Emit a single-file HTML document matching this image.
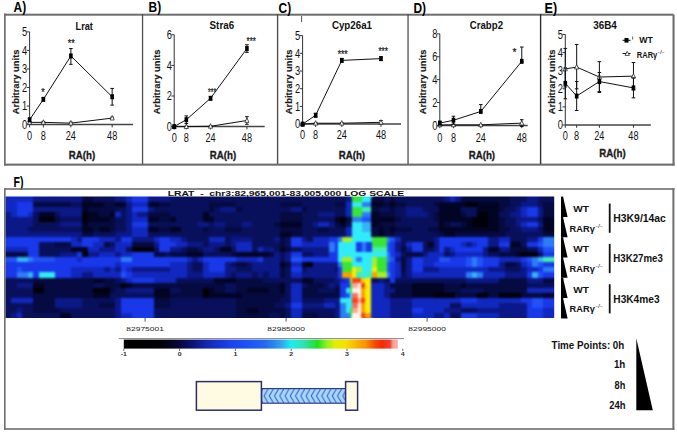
<!DOCTYPE html>
<html><head><meta charset="utf-8"><style>
html,body{margin:0;padding:0;background:#fff;}
svg{display:block;font-family:"Liberation Sans", sans-serif;}
</style></head><body>
<svg width="677" height="434" viewBox="0 0 677 434">
<rect width="677" height="434" fill="#fff"/>
<rect x="4" y="13.7" width="669.5" height="2" fill="#6e6e6e"/>
<rect x="4" y="163.6" width="670.5" height="2.1" fill="#6e6e6e"/>
<rect x="4" y="13.5" width="1.7" height="152" fill="#6e6e6e"/>
<rect x="672.5" y="14.5" width="2.1" height="151" fill="#6e6e6e"/>
<rect x="141.9" y="14" width="1.3" height="150" fill="#505050"/>
<rect x="276.9" y="14" width="1.4" height="150" fill="#505050"/>
<rect x="407.4" y="14" width="1.3" height="150" fill="#505050"/>
<rect x="539.9" y="14" width="1.4" height="150" fill="#303030"/>
<text x="13.6" y="12.2" font-size="14.6" font-weight="bold" text-anchor="start" textLength="12.6" lengthAdjust="spacingAndGlyphs" fill="#000" >A)</text>
<text x="148.6" y="12.3" font-size="14.6" font-weight="bold" text-anchor="start" textLength="12.6" lengthAdjust="spacingAndGlyphs" fill="#000" >B)</text>
<text x="278.6" y="12.7" font-size="14.6" font-weight="bold" text-anchor="start" textLength="12.6" lengthAdjust="spacingAndGlyphs" fill="#000" >C)</text>
<text x="413.4" y="12.6" font-size="14.6" font-weight="bold" text-anchor="start" textLength="12.6" lengthAdjust="spacingAndGlyphs" fill="#000" >D)</text>
<text x="544.5" y="12.6" font-size="14.6" font-weight="bold" text-anchor="start" textLength="12.6" lengthAdjust="spacingAndGlyphs" fill="#000" >E)</text>
<line x1="29.6" y1="31.849999999999994" x2="29.6" y2="124.6" stroke="#333" stroke-width="1"/>
<line x1="26.8" y1="124.6" x2="29.6" y2="124.6" stroke="#333" stroke-width="1"/>
<text x="27.3" y="128.9" font-size="12" text-anchor="end" textLength="5.2" lengthAdjust="spacingAndGlyphs" fill="#111" >0</text>
<line x1="26.8" y1="106.05" x2="29.6" y2="106.05" stroke="#333" stroke-width="1"/>
<text x="27.3" y="110.35" font-size="12" text-anchor="end" textLength="5.2" lengthAdjust="spacingAndGlyphs" fill="#111" >1</text>
<line x1="26.8" y1="87.5" x2="29.6" y2="87.5" stroke="#333" stroke-width="1"/>
<text x="27.3" y="91.8" font-size="12" text-anchor="end" textLength="5.2" lengthAdjust="spacingAndGlyphs" fill="#111" >2</text>
<line x1="26.8" y1="68.94999999999999" x2="29.6" y2="68.94999999999999" stroke="#333" stroke-width="1"/>
<text x="27.3" y="73.24999999999999" font-size="12" text-anchor="end" textLength="5.2" lengthAdjust="spacingAndGlyphs" fill="#111" >3</text>
<line x1="26.8" y1="50.39999999999999" x2="29.6" y2="50.39999999999999" stroke="#333" stroke-width="1"/>
<text x="27.3" y="54.69999999999999" font-size="12" text-anchor="end" textLength="5.2" lengthAdjust="spacingAndGlyphs" fill="#111" >4</text>
<line x1="26.8" y1="31.849999999999994" x2="29.6" y2="31.849999999999994" stroke="#333" stroke-width="1"/>
<text x="27.3" y="36.14999999999999" font-size="12" text-anchor="end" textLength="5.2" lengthAdjust="spacingAndGlyphs" fill="#111" >5</text>
<line x1="29.6" y1="124.6" x2="133" y2="124.6" stroke="#444" stroke-width="1.5"/>
<line x1="29.6" y1="124.6" x2="29.6" y2="127.39999999999999" stroke="#333" stroke-width="1"/>
<text x="29.6" y="139.5" font-size="12" text-anchor="middle" textLength="5.1" lengthAdjust="spacingAndGlyphs" fill="#111" >0</text>
<line x1="43.36" y1="124.6" x2="43.36" y2="127.39999999999999" stroke="#333" stroke-width="1"/>
<text x="43.36" y="139.5" font-size="12" text-anchor="middle" textLength="5.1" lengthAdjust="spacingAndGlyphs" fill="#111" >8</text>
<line x1="70.88" y1="124.6" x2="70.88" y2="127.39999999999999" stroke="#333" stroke-width="1"/>
<text x="70.88" y="139.5" font-size="12" text-anchor="middle" textLength="10.2" lengthAdjust="spacingAndGlyphs" fill="#111" >24</text>
<line x1="112.16" y1="124.6" x2="112.16" y2="127.39999999999999" stroke="#333" stroke-width="1"/>
<text x="112.16" y="139.5" font-size="12" text-anchor="middle" textLength="10.2" lengthAdjust="spacingAndGlyphs" fill="#111" >48</text>
<text transform="translate(19.3,81.9) rotate(-90)" x="0" y="0" font-size="9.8" font-weight="bold" text-anchor="middle" textLength="64.8" lengthAdjust="spacingAndGlyphs" fill="#1a1a1a" stroke="#1a1a1a" stroke-width="0.15">Arbitrary units</text>
<text x="82" y="158.6" font-size="10.2" font-weight="bold" text-anchor="middle" textLength="26.4" lengthAdjust="spacingAndGlyphs" fill="#1a1a1a" stroke="#1a1a1a" stroke-width="0.3">RA(h)</text>
<text x="75.6" y="29.8" font-size="10.7" font-weight="bold" text-anchor="start" textLength="17.3" lengthAdjust="spacingAndGlyphs" fill="#111" >Lrat</text>
<polyline points="29.60,122.37 43.36,122.37 70.88,123.12 112.16,118.11" fill="none" stroke="#111" stroke-width="1"/>
<line x1="29.6" y1="121.4465" x2="29.6" y2="123.30149999999999" stroke="#111" stroke-width="1"/>
<line x1="27.8" y1="121.4465" x2="31.400000000000002" y2="121.4465" stroke="#111" stroke-width="1"/>
<line x1="27.8" y1="123.30149999999999" x2="31.400000000000002" y2="123.30149999999999" stroke="#111" stroke-width="1"/>
<polygon points="29.60,119.77 31.70,124.27 27.50,124.27" fill="#fff" stroke="#222" stroke-width="0.75"/>
<line x1="43.36" y1="121.4465" x2="43.36" y2="123.30149999999999" stroke="#111" stroke-width="1"/>
<line x1="41.56" y1="121.4465" x2="45.16" y2="121.4465" stroke="#111" stroke-width="1"/>
<line x1="41.56" y1="123.30149999999999" x2="45.16" y2="123.30149999999999" stroke="#111" stroke-width="1"/>
<polygon points="43.36,119.77 45.46,124.27 41.26,124.27" fill="#fff" stroke="#222" stroke-width="0.75"/>
<line x1="70.88" y1="122.18849999999999" x2="70.88" y2="124.0435" stroke="#111" stroke-width="1"/>
<line x1="69.08" y1="122.18849999999999" x2="72.67999999999999" y2="122.18849999999999" stroke="#111" stroke-width="1"/>
<line x1="69.08" y1="124.0435" x2="72.67999999999999" y2="124.0435" stroke="#111" stroke-width="1"/>
<polygon points="70.88,120.52 72.98,125.02 68.78,125.02" fill="#fff" stroke="#222" stroke-width="0.75"/>
<line x1="112.16" y1="117.17999999999999" x2="112.16" y2="119.035" stroke="#111" stroke-width="1"/>
<line x1="110.36" y1="117.17999999999999" x2="113.96" y2="117.17999999999999" stroke="#111" stroke-width="1"/>
<line x1="110.36" y1="119.035" x2="113.96" y2="119.035" stroke="#111" stroke-width="1"/>
<polygon points="112.16,115.51 114.26,120.01 110.06,120.01" fill="#fff" stroke="#222" stroke-width="0.75"/>
<polyline points="29.60,119.78 43.36,99.37 70.88,55.96 112.16,96.77" fill="none" stroke="#111" stroke-width="1"/>
<line x1="29.6" y1="118.29299999999999" x2="29.6" y2="121.261" stroke="#111" stroke-width="1"/>
<line x1="27.8" y1="118.29299999999999" x2="31.400000000000002" y2="118.29299999999999" stroke="#111" stroke-width="1"/>
<line x1="27.8" y1="121.261" x2="31.400000000000002" y2="121.261" stroke="#111" stroke-width="1"/>
<rect x="27.8" y="117.28" width="3.6" height="5.0" fill="#000"/>
<line x1="43.36" y1="97.88799999999999" x2="43.36" y2="100.856" stroke="#111" stroke-width="1"/>
<line x1="41.56" y1="97.88799999999999" x2="45.16" y2="97.88799999999999" stroke="#111" stroke-width="1"/>
<line x1="41.56" y1="100.856" x2="45.16" y2="100.856" stroke="#111" stroke-width="1"/>
<rect x="41.56" y="96.87" width="3.6" height="5.0" fill="#000"/>
<line x1="70.88" y1="48.54499999999999" x2="70.88" y2="64.3125" stroke="#111" stroke-width="1"/>
<line x1="69.08" y1="48.54499999999999" x2="72.67999999999999" y2="48.54499999999999" stroke="#111" stroke-width="1"/>
<line x1="69.08" y1="64.3125" x2="72.67999999999999" y2="64.3125" stroke="#111" stroke-width="1"/>
<rect x="69.08" y="53.46" width="3.6" height="5.0" fill="#000"/>
<line x1="112.16" y1="88.4275" x2="112.16" y2="105.12249999999999" stroke="#111" stroke-width="1"/>
<line x1="110.36" y1="88.4275" x2="113.96" y2="88.4275" stroke="#111" stroke-width="1"/>
<line x1="110.36" y1="105.12249999999999" x2="113.96" y2="105.12249999999999" stroke="#111" stroke-width="1"/>
<rect x="110.36" y="94.27" width="3.6" height="5.0" fill="#000"/>
<text x="41.3" y="95.5" font-size="11" text-anchor="start" textLength="3.5" lengthAdjust="spacingAndGlyphs" fill="#222" stroke="#222" stroke-width="0.25">*</text>
<text x="67.8" y="47.2" font-size="11" text-anchor="start" textLength="7" lengthAdjust="spacingAndGlyphs" fill="#222" stroke="#222" stroke-width="0.25">**</text>
<line x1="174.2" y1="34.79999999999998" x2="174.2" y2="126.6" stroke="#333" stroke-width="1"/>
<line x1="171.39999999999998" y1="126.6" x2="174.2" y2="126.6" stroke="#333" stroke-width="1"/>
<text x="171.89999999999998" y="130.9" font-size="12" text-anchor="end" textLength="5.2" lengthAdjust="spacingAndGlyphs" fill="#111" >0</text>
<line x1="171.39999999999998" y1="96.0" x2="174.2" y2="96.0" stroke="#333" stroke-width="1"/>
<text x="171.89999999999998" y="100.3" font-size="12" text-anchor="end" textLength="5.2" lengthAdjust="spacingAndGlyphs" fill="#111" >2</text>
<line x1="171.39999999999998" y1="65.39999999999999" x2="174.2" y2="65.39999999999999" stroke="#333" stroke-width="1"/>
<text x="171.89999999999998" y="69.69999999999999" font-size="12" text-anchor="end" textLength="5.2" lengthAdjust="spacingAndGlyphs" fill="#111" >4</text>
<line x1="171.39999999999998" y1="34.79999999999998" x2="174.2" y2="34.79999999999998" stroke="#333" stroke-width="1"/>
<text x="171.89999999999998" y="39.09999999999998" font-size="12" text-anchor="end" textLength="5.2" lengthAdjust="spacingAndGlyphs" fill="#111" >6</text>
<line x1="174.2" y1="126.6" x2="264.7" y2="126.6" stroke="#444" stroke-width="1.5"/>
<line x1="174.2" y1="126.6" x2="174.2" y2="129.4" stroke="#333" stroke-width="1"/>
<text x="174.2" y="141.9" font-size="12" text-anchor="middle" textLength="5.1" lengthAdjust="spacingAndGlyphs" fill="#111" >0</text>
<line x1="186.32" y1="126.6" x2="186.32" y2="129.4" stroke="#333" stroke-width="1"/>
<text x="186.32" y="141.9" font-size="12" text-anchor="middle" textLength="5.1" lengthAdjust="spacingAndGlyphs" fill="#111" >8</text>
<line x1="210.56" y1="126.6" x2="210.56" y2="129.4" stroke="#333" stroke-width="1"/>
<text x="210.56" y="141.9" font-size="12" text-anchor="middle" textLength="10.2" lengthAdjust="spacingAndGlyphs" fill="#111" >24</text>
<line x1="246.92" y1="126.6" x2="246.92" y2="129.4" stroke="#333" stroke-width="1"/>
<text x="246.92" y="141.9" font-size="12" text-anchor="middle" textLength="10.2" lengthAdjust="spacingAndGlyphs" fill="#111" >48</text>
<text transform="translate(160.0,81.9) rotate(-90)" x="0" y="0" font-size="9.8" font-weight="bold" text-anchor="middle" textLength="64.8" lengthAdjust="spacingAndGlyphs" fill="#1a1a1a" stroke="#1a1a1a" stroke-width="0.15">Arbitrary units</text>
<text x="223" y="158.6" font-size="10.2" font-weight="bold" text-anchor="middle" textLength="26.4" lengthAdjust="spacingAndGlyphs" fill="#1a1a1a" stroke="#1a1a1a" stroke-width="0.3">RA(h)</text>
<text x="209.6" y="28.7" font-size="10.7" font-weight="bold" text-anchor="start" textLength="24.5" lengthAdjust="spacingAndGlyphs" fill="#111" >Stra6</text>
<polyline points="174.20,126.60 186.32,126.60 210.56,126.29 246.92,120.48" fill="none" stroke="#111" stroke-width="1"/>
<line x1="174.2" y1="126.14099999999999" x2="174.2" y2="127.059" stroke="#111" stroke-width="1"/>
<line x1="172.39999999999998" y1="126.14099999999999" x2="176.0" y2="126.14099999999999" stroke="#111" stroke-width="1"/>
<line x1="172.39999999999998" y1="127.059" x2="176.0" y2="127.059" stroke="#111" stroke-width="1"/>
<polygon points="174.20,124.00 176.30,128.50 172.10,128.50" fill="#fff" stroke="#222" stroke-width="0.75"/>
<line x1="186.32" y1="126.14099999999999" x2="186.32" y2="127.059" stroke="#111" stroke-width="1"/>
<line x1="184.51999999999998" y1="126.14099999999999" x2="188.12" y2="126.14099999999999" stroke="#111" stroke-width="1"/>
<line x1="184.51999999999998" y1="127.059" x2="188.12" y2="127.059" stroke="#111" stroke-width="1"/>
<polygon points="186.32,124.00 188.42,128.50 184.22,128.50" fill="#fff" stroke="#222" stroke-width="0.75"/>
<line x1="210.56" y1="125.835" x2="210.56" y2="126.753" stroke="#111" stroke-width="1"/>
<line x1="208.76" y1="125.835" x2="212.36" y2="125.835" stroke="#111" stroke-width="1"/>
<line x1="208.76" y1="126.753" x2="212.36" y2="126.753" stroke="#111" stroke-width="1"/>
<polygon points="210.56,123.69 212.66,128.19 208.46,128.19" fill="#fff" stroke="#222" stroke-width="0.75"/>
<line x1="246.92" y1="116.655" x2="246.92" y2="124.30499999999999" stroke="#111" stroke-width="1"/>
<line x1="245.11999999999998" y1="116.655" x2="248.72" y2="116.655" stroke="#111" stroke-width="1"/>
<line x1="245.11999999999998" y1="124.30499999999999" x2="248.72" y2="124.30499999999999" stroke="#111" stroke-width="1"/>
<polygon points="246.92,117.88 249.02,122.38 244.82,122.38" fill="#fff" stroke="#222" stroke-width="0.75"/>
<polyline points="174.20,126.60 186.32,119.71 210.56,98.29 246.92,48.57" fill="none" stroke="#111" stroke-width="1"/>
<line x1="174.2" y1="125.835" x2="174.2" y2="127.365" stroke="#111" stroke-width="1"/>
<line x1="172.39999999999998" y1="125.835" x2="176.0" y2="125.835" stroke="#111" stroke-width="1"/>
<line x1="172.39999999999998" y1="127.365" x2="176.0" y2="127.365" stroke="#111" stroke-width="1"/>
<rect x="172.4" y="124.1" width="3.6" height="5.0" fill="#000"/>
<line x1="186.32" y1="115.89" x2="186.32" y2="123.53999999999999" stroke="#111" stroke-width="1"/>
<line x1="184.51999999999998" y1="115.89" x2="188.12" y2="115.89" stroke="#111" stroke-width="1"/>
<line x1="184.51999999999998" y1="123.53999999999999" x2="188.12" y2="123.53999999999999" stroke="#111" stroke-width="1"/>
<rect x="184.52" y="117.21" width="3.6" height="5.0" fill="#000"/>
<line x1="210.56" y1="96.76499999999999" x2="210.56" y2="99.82499999999999" stroke="#111" stroke-width="1"/>
<line x1="208.76" y1="96.76499999999999" x2="212.36" y2="96.76499999999999" stroke="#111" stroke-width="1"/>
<line x1="208.76" y1="99.82499999999999" x2="212.36" y2="99.82499999999999" stroke="#111" stroke-width="1"/>
<rect x="208.76" y="95.79" width="3.6" height="5.0" fill="#000"/>
<line x1="246.92" y1="44.74499999999999" x2="246.92" y2="52.394999999999996" stroke="#111" stroke-width="1"/>
<line x1="245.11999999999998" y1="44.74499999999999" x2="248.72" y2="44.74499999999999" stroke="#111" stroke-width="1"/>
<line x1="245.11999999999998" y1="52.394999999999996" x2="248.72" y2="52.394999999999996" stroke="#111" stroke-width="1"/>
<rect x="245.12" y="46.07" width="3.6" height="5.0" fill="#000"/>
<text x="208" y="95.5" font-size="11" text-anchor="start" textLength="8.3" lengthAdjust="spacingAndGlyphs" fill="#222" stroke="#222" stroke-width="0.25">***</text>
<text x="246.6" y="45.3" font-size="11" text-anchor="start" textLength="9.2" lengthAdjust="spacingAndGlyphs" fill="#222" stroke="#222" stroke-width="0.25">***</text>
<line x1="302.6" y1="35.599999999999994" x2="302.6" y2="124.1" stroke="#333" stroke-width="1"/>
<line x1="299.8" y1="124.1" x2="302.6" y2="124.1" stroke="#333" stroke-width="1"/>
<text x="300.3" y="128.4" font-size="12" text-anchor="end" textLength="5.2" lengthAdjust="spacingAndGlyphs" fill="#111" >0</text>
<line x1="299.8" y1="106.39999999999999" x2="302.6" y2="106.39999999999999" stroke="#333" stroke-width="1"/>
<text x="300.3" y="110.69999999999999" font-size="12" text-anchor="end" textLength="5.2" lengthAdjust="spacingAndGlyphs" fill="#111" >1</text>
<line x1="299.8" y1="88.69999999999999" x2="302.6" y2="88.69999999999999" stroke="#333" stroke-width="1"/>
<text x="300.3" y="92.99999999999999" font-size="12" text-anchor="end" textLength="5.2" lengthAdjust="spacingAndGlyphs" fill="#111" >2</text>
<line x1="299.8" y1="71.0" x2="302.6" y2="71.0" stroke="#333" stroke-width="1"/>
<text x="300.3" y="75.3" font-size="12" text-anchor="end" textLength="5.2" lengthAdjust="spacingAndGlyphs" fill="#111" >3</text>
<line x1="299.8" y1="53.3" x2="302.6" y2="53.3" stroke="#333" stroke-width="1"/>
<text x="300.3" y="57.599999999999994" font-size="12" text-anchor="end" textLength="5.2" lengthAdjust="spacingAndGlyphs" fill="#111" >4</text>
<line x1="299.8" y1="35.599999999999994" x2="302.6" y2="35.599999999999994" stroke="#333" stroke-width="1"/>
<text x="300.3" y="39.89999999999999" font-size="12" text-anchor="end" textLength="5.2" lengthAdjust="spacingAndGlyphs" fill="#111" >5</text>
<line x1="302.6" y1="124.1" x2="401" y2="124.1" stroke="#444" stroke-width="1.5"/>
<line x1="302.6" y1="124.1" x2="302.6" y2="126.89999999999999" stroke="#333" stroke-width="1"/>
<text x="302.6" y="139" font-size="12" text-anchor="middle" textLength="5.1" lengthAdjust="spacingAndGlyphs" fill="#111" >0</text>
<line x1="315.66400000000004" y1="124.1" x2="315.66400000000004" y2="126.89999999999999" stroke="#333" stroke-width="1"/>
<text x="315.66400000000004" y="139" font-size="12" text-anchor="middle" textLength="5.1" lengthAdjust="spacingAndGlyphs" fill="#111" >8</text>
<line x1="341.79200000000003" y1="124.1" x2="341.79200000000003" y2="126.89999999999999" stroke="#333" stroke-width="1"/>
<text x="341.79200000000003" y="139" font-size="12" text-anchor="middle" textLength="10.2" lengthAdjust="spacingAndGlyphs" fill="#111" >24</text>
<line x1="380.98400000000004" y1="124.1" x2="380.98400000000004" y2="126.89999999999999" stroke="#333" stroke-width="1"/>
<text x="380.98400000000004" y="139" font-size="12" text-anchor="middle" textLength="10.2" lengthAdjust="spacingAndGlyphs" fill="#111" >48</text>
<text transform="translate(292.3,81.9) rotate(-90)" x="0" y="0" font-size="9.8" font-weight="bold" text-anchor="middle" textLength="64.8" lengthAdjust="spacingAndGlyphs" fill="#1a1a1a" stroke="#1a1a1a" stroke-width="0.15">Arbitrary units</text>
<text x="351.9" y="158.6" font-size="10.2" font-weight="bold" text-anchor="middle" textLength="26.4" lengthAdjust="spacingAndGlyphs" fill="#1a1a1a" stroke="#1a1a1a" stroke-width="0.3">RA(h)</text>
<text x="331.9" y="28.7" font-size="10.7" font-weight="bold" text-anchor="start" textLength="40.1" lengthAdjust="spacingAndGlyphs" fill="#111" >Cyp26a1</text>
<polyline points="302.60,124.10 315.66,123.21 341.79,123.21 380.98,122.33" fill="none" stroke="#111" stroke-width="1"/>
<line x1="302.6" y1="123.56899999999999" x2="302.6" y2="124.631" stroke="#111" stroke-width="1"/>
<line x1="300.8" y1="123.56899999999999" x2="304.40000000000003" y2="123.56899999999999" stroke="#111" stroke-width="1"/>
<line x1="300.8" y1="124.631" x2="304.40000000000003" y2="124.631" stroke="#111" stroke-width="1"/>
<polygon points="302.60,121.50 304.70,126.00 300.50,126.00" fill="#fff" stroke="#222" stroke-width="0.75"/>
<line x1="315.66400000000004" y1="122.684" x2="315.66400000000004" y2="123.746" stroke="#111" stroke-width="1"/>
<line x1="313.86400000000003" y1="122.684" x2="317.46400000000006" y2="122.684" stroke="#111" stroke-width="1"/>
<line x1="313.86400000000003" y1="123.746" x2="317.46400000000006" y2="123.746" stroke="#111" stroke-width="1"/>
<polygon points="315.66,120.61 317.76,125.11 313.56,125.11" fill="#fff" stroke="#222" stroke-width="0.75"/>
<line x1="341.79200000000003" y1="122.684" x2="341.79200000000003" y2="123.746" stroke="#111" stroke-width="1"/>
<line x1="339.992" y1="122.684" x2="343.59200000000004" y2="122.684" stroke="#111" stroke-width="1"/>
<line x1="339.992" y1="123.746" x2="343.59200000000004" y2="123.746" stroke="#111" stroke-width="1"/>
<polygon points="341.79,120.61 343.89,125.11 339.69,125.11" fill="#fff" stroke="#222" stroke-width="0.75"/>
<line x1="380.98400000000004" y1="120.55999999999999" x2="380.98400000000004" y2="124.1" stroke="#111" stroke-width="1"/>
<line x1="379.184" y1="120.55999999999999" x2="382.78400000000005" y2="120.55999999999999" stroke="#111" stroke-width="1"/>
<line x1="379.184" y1="124.1" x2="382.78400000000005" y2="124.1" stroke="#111" stroke-width="1"/>
<polygon points="380.98,119.73 383.08,124.23 378.88,124.23" fill="#fff" stroke="#222" stroke-width="0.75"/>
<polyline points="302.60,124.10 315.66,115.25 341.79,60.38 380.98,58.61" fill="none" stroke="#111" stroke-width="1"/>
<line x1="302.6" y1="123.21499999999999" x2="302.6" y2="124.985" stroke="#111" stroke-width="1"/>
<line x1="300.8" y1="123.21499999999999" x2="304.40000000000003" y2="123.21499999999999" stroke="#111" stroke-width="1"/>
<line x1="300.8" y1="124.985" x2="304.40000000000003" y2="124.985" stroke="#111" stroke-width="1"/>
<rect x="300.8" y="121.6" width="3.6" height="5.0" fill="#000"/>
<line x1="315.66400000000004" y1="113.47999999999999" x2="315.66400000000004" y2="117.02" stroke="#111" stroke-width="1"/>
<line x1="313.86400000000003" y1="113.47999999999999" x2="317.46400000000006" y2="113.47999999999999" stroke="#111" stroke-width="1"/>
<line x1="313.86400000000003" y1="117.02" x2="317.46400000000006" y2="117.02" stroke="#111" stroke-width="1"/>
<rect x="313.86" y="112.75" width="3.6" height="5.0" fill="#000"/>
<line x1="341.79200000000003" y1="58.61" x2="341.79200000000003" y2="62.15" stroke="#111" stroke-width="1"/>
<line x1="339.992" y1="58.61" x2="343.59200000000004" y2="58.61" stroke="#111" stroke-width="1"/>
<line x1="339.992" y1="62.15" x2="343.59200000000004" y2="62.15" stroke="#111" stroke-width="1"/>
<rect x="339.99" y="57.88" width="3.6" height="5.0" fill="#000"/>
<line x1="380.98400000000004" y1="56.83999999999999" x2="380.98400000000004" y2="60.379999999999995" stroke="#111" stroke-width="1"/>
<line x1="379.184" y1="56.83999999999999" x2="382.78400000000005" y2="56.83999999999999" stroke="#111" stroke-width="1"/>
<line x1="379.184" y1="60.379999999999995" x2="382.78400000000005" y2="60.379999999999995" stroke="#111" stroke-width="1"/>
<rect x="379.18" y="56.11" width="3.6" height="5.0" fill="#000"/>
<text x="337.7" y="58.0" font-size="11" text-anchor="start" textLength="10" lengthAdjust="spacingAndGlyphs" fill="#222" stroke="#222" stroke-width="0.25">***</text>
<text x="378.4" y="54.8" font-size="11" text-anchor="start" textLength="9.6" lengthAdjust="spacingAndGlyphs" fill="#222" stroke="#222" stroke-width="0.25">***</text>
<line x1="439.8" y1="33.88000000000001" x2="439.8" y2="125.4" stroke="#333" stroke-width="1"/>
<line x1="437.0" y1="125.4" x2="439.8" y2="125.4" stroke="#333" stroke-width="1"/>
<text x="437.5" y="129.70000000000002" font-size="12" text-anchor="end" textLength="5.2" lengthAdjust="spacingAndGlyphs" fill="#111" >0</text>
<line x1="437.0" y1="102.52000000000001" x2="439.8" y2="102.52000000000001" stroke="#333" stroke-width="1"/>
<text x="437.5" y="106.82000000000001" font-size="12" text-anchor="end" textLength="5.2" lengthAdjust="spacingAndGlyphs" fill="#111" >2</text>
<line x1="437.0" y1="79.64000000000001" x2="439.8" y2="79.64000000000001" stroke="#333" stroke-width="1"/>
<text x="437.5" y="83.94000000000001" font-size="12" text-anchor="end" textLength="5.2" lengthAdjust="spacingAndGlyphs" fill="#111" >4</text>
<line x1="437.0" y1="56.760000000000005" x2="439.8" y2="56.760000000000005" stroke="#333" stroke-width="1"/>
<text x="437.5" y="61.06" font-size="12" text-anchor="end" textLength="5.2" lengthAdjust="spacingAndGlyphs" fill="#111" >6</text>
<line x1="437.0" y1="33.88000000000001" x2="439.8" y2="33.88000000000001" stroke="#333" stroke-width="1"/>
<text x="437.5" y="38.18000000000001" font-size="12" text-anchor="end" textLength="5.2" lengthAdjust="spacingAndGlyphs" fill="#111" >8</text>
<line x1="439.8" y1="125.4" x2="527.7" y2="125.4" stroke="#444" stroke-width="1.5"/>
<line x1="439.8" y1="125.4" x2="439.8" y2="128.20000000000002" stroke="#333" stroke-width="1"/>
<text x="439.8" y="141.5" font-size="12" text-anchor="middle" textLength="5.1" lengthAdjust="spacingAndGlyphs" fill="#111" >0</text>
<line x1="453.464" y1="125.4" x2="453.464" y2="128.20000000000002" stroke="#333" stroke-width="1"/>
<text x="453.464" y="141.5" font-size="12" text-anchor="middle" textLength="5.1" lengthAdjust="spacingAndGlyphs" fill="#111" >8</text>
<line x1="480.79200000000003" y1="125.4" x2="480.79200000000003" y2="128.20000000000002" stroke="#333" stroke-width="1"/>
<text x="480.79200000000003" y="141.5" font-size="12" text-anchor="middle" textLength="10.2" lengthAdjust="spacingAndGlyphs" fill="#111" >24</text>
<line x1="521.784" y1="125.4" x2="521.784" y2="128.20000000000002" stroke="#333" stroke-width="1"/>
<text x="521.784" y="141.5" font-size="12" text-anchor="middle" textLength="10.2" lengthAdjust="spacingAndGlyphs" fill="#111" >48</text>
<text transform="translate(426.0,81.9) rotate(-90)" x="0" y="0" font-size="9.8" font-weight="bold" text-anchor="middle" textLength="64.8" lengthAdjust="spacingAndGlyphs" fill="#1a1a1a" stroke="#1a1a1a" stroke-width="0.15">Arbitrary units</text>
<text x="481.9" y="158.6" font-size="10.2" font-weight="bold" text-anchor="middle" textLength="26.4" lengthAdjust="spacingAndGlyphs" fill="#1a1a1a" stroke="#1a1a1a" stroke-width="0.3">RA(h)</text>
<text x="469.8" y="28.7" font-size="10.7" font-weight="bold" text-anchor="start" textLength="33.2" lengthAdjust="spacingAndGlyphs" fill="#111" >Crabp2</text>
<polyline points="439.80,124.83 453.46,124.83 480.79,124.83 521.78,123.11" fill="none" stroke="#111" stroke-width="1"/>
<line x1="439.8" y1="124.4848" x2="439.8" y2="125.1712" stroke="#111" stroke-width="1"/>
<line x1="438.0" y1="124.4848" x2="441.6" y2="124.4848" stroke="#111" stroke-width="1"/>
<line x1="438.0" y1="125.1712" x2="441.6" y2="125.1712" stroke="#111" stroke-width="1"/>
<polygon points="439.80,122.23 441.90,126.73 437.70,126.73" fill="#fff" stroke="#222" stroke-width="0.75"/>
<line x1="453.464" y1="124.4848" x2="453.464" y2="125.1712" stroke="#111" stroke-width="1"/>
<line x1="451.664" y1="124.4848" x2="455.264" y2="124.4848" stroke="#111" stroke-width="1"/>
<line x1="451.664" y1="125.1712" x2="455.264" y2="125.1712" stroke="#111" stroke-width="1"/>
<polygon points="453.46,122.23 455.56,126.73 451.36,126.73" fill="#fff" stroke="#222" stroke-width="0.75"/>
<line x1="480.79200000000003" y1="124.4848" x2="480.79200000000003" y2="125.1712" stroke="#111" stroke-width="1"/>
<line x1="478.992" y1="124.4848" x2="482.59200000000004" y2="124.4848" stroke="#111" stroke-width="1"/>
<line x1="478.992" y1="125.1712" x2="482.59200000000004" y2="125.1712" stroke="#111" stroke-width="1"/>
<polygon points="480.79,122.23 482.89,126.73 478.69,126.73" fill="#fff" stroke="#222" stroke-width="0.75"/>
<line x1="521.784" y1="119.68" x2="521.784" y2="126.54400000000001" stroke="#111" stroke-width="1"/>
<line x1="519.984" y1="119.68" x2="523.584" y2="119.68" stroke="#111" stroke-width="1"/>
<line x1="519.984" y1="126.54400000000001" x2="523.584" y2="126.54400000000001" stroke="#111" stroke-width="1"/>
<polygon points="521.78,120.51 523.88,125.01 519.68,125.01" fill="#fff" stroke="#222" stroke-width="0.75"/>
<polyline points="439.80,123.11 453.46,120.25 480.79,111.44 521.78,61.34" fill="none" stroke="#111" stroke-width="1"/>
<line x1="439.8" y1="121.396" x2="439.8" y2="124.828" stroke="#111" stroke-width="1"/>
<line x1="438.0" y1="121.396" x2="441.6" y2="121.396" stroke="#111" stroke-width="1"/>
<line x1="438.0" y1="124.828" x2="441.6" y2="124.828" stroke="#111" stroke-width="1"/>
<rect x="438.0" y="120.61" width="3.6" height="5.0" fill="#000"/>
<line x1="453.464" y1="116.248" x2="453.464" y2="124.256" stroke="#111" stroke-width="1"/>
<line x1="451.664" y1="116.248" x2="455.264" y2="116.248" stroke="#111" stroke-width="1"/>
<line x1="451.664" y1="124.256" x2="455.264" y2="124.256" stroke="#111" stroke-width="1"/>
<rect x="451.66" y="117.75" width="3.6" height="5.0" fill="#000"/>
<line x1="480.79200000000003" y1="104.57920000000001" x2="480.79200000000003" y2="112.01520000000001" stroke="#111" stroke-width="1"/>
<line x1="478.992" y1="104.57920000000001" x2="482.59200000000004" y2="104.57920000000001" stroke="#111" stroke-width="1"/>
<line x1="478.992" y1="112.01520000000001" x2="482.59200000000004" y2="112.01520000000001" stroke="#111" stroke-width="1"/>
<rect x="478.99" y="108.94" width="3.6" height="5.0" fill="#000"/>
<line x1="521.784" y1="47.036000000000016" x2="521.784" y2="61.90800000000001" stroke="#111" stroke-width="1"/>
<line x1="519.984" y1="47.036000000000016" x2="523.584" y2="47.036000000000016" stroke="#111" stroke-width="1"/>
<line x1="519.984" y1="61.90800000000001" x2="523.584" y2="61.90800000000001" stroke="#111" stroke-width="1"/>
<rect x="519.98" y="58.84" width="3.6" height="5.0" fill="#000"/>
<text x="512.6" y="56.0" font-size="11" text-anchor="start" textLength="4" lengthAdjust="spacingAndGlyphs" fill="#222" stroke="#222" stroke-width="0.25">*</text>
<line x1="565.3" y1="34.5" x2="565.3" y2="125.0" stroke="#333" stroke-width="1"/>
<line x1="562.5" y1="125.0" x2="565.3" y2="125.0" stroke="#333" stroke-width="1"/>
<text x="563.0" y="129.3" font-size="12" text-anchor="end" textLength="5.2" lengthAdjust="spacingAndGlyphs" fill="#111" >0</text>
<line x1="562.5" y1="106.9" x2="565.3" y2="106.9" stroke="#333" stroke-width="1"/>
<text x="563.0" y="111.2" font-size="12" text-anchor="end" textLength="5.2" lengthAdjust="spacingAndGlyphs" fill="#111" >1</text>
<line x1="562.5" y1="88.8" x2="565.3" y2="88.8" stroke="#333" stroke-width="1"/>
<text x="563.0" y="93.1" font-size="12" text-anchor="end" textLength="5.2" lengthAdjust="spacingAndGlyphs" fill="#111" >2</text>
<line x1="562.5" y1="70.69999999999999" x2="565.3" y2="70.69999999999999" stroke="#333" stroke-width="1"/>
<text x="563.0" y="74.99999999999999" font-size="12" text-anchor="end" textLength="5.2" lengthAdjust="spacingAndGlyphs" fill="#111" >3</text>
<line x1="562.5" y1="52.599999999999994" x2="565.3" y2="52.599999999999994" stroke="#333" stroke-width="1"/>
<text x="563.0" y="56.89999999999999" font-size="12" text-anchor="end" textLength="5.2" lengthAdjust="spacingAndGlyphs" fill="#111" >4</text>
<line x1="562.5" y1="34.5" x2="565.3" y2="34.5" stroke="#333" stroke-width="1"/>
<text x="563.0" y="38.8" font-size="12" text-anchor="end" textLength="5.2" lengthAdjust="spacingAndGlyphs" fill="#111" >5</text>
<line x1="565.3" y1="125.0" x2="650.8" y2="125.0" stroke="#444" stroke-width="1.5"/>
<line x1="565.3" y1="125.0" x2="565.3" y2="127.8" stroke="#333" stroke-width="1"/>
<text x="565.3" y="140.0" font-size="12" text-anchor="middle" textLength="5.1" lengthAdjust="spacingAndGlyphs" fill="#111" >0</text>
<line x1="576.66" y1="125.0" x2="576.66" y2="127.8" stroke="#333" stroke-width="1"/>
<text x="576.66" y="140.0" font-size="12" text-anchor="middle" textLength="5.1" lengthAdjust="spacingAndGlyphs" fill="#111" >8</text>
<line x1="599.38" y1="125.0" x2="599.38" y2="127.8" stroke="#333" stroke-width="1"/>
<text x="599.38" y="140.0" font-size="12" text-anchor="middle" textLength="10.2" lengthAdjust="spacingAndGlyphs" fill="#111" >24</text>
<line x1="633.4599999999999" y1="125.0" x2="633.4599999999999" y2="127.8" stroke="#333" stroke-width="1"/>
<text x="633.4599999999999" y="140.0" font-size="12" text-anchor="middle" textLength="10.2" lengthAdjust="spacingAndGlyphs" fill="#111" >48</text>
<text transform="translate(554.9,81.9) rotate(-90)" x="0" y="0" font-size="9.8" font-weight="bold" text-anchor="middle" textLength="64.8" lengthAdjust="spacingAndGlyphs" fill="#1a1a1a" stroke="#1a1a1a" stroke-width="0.15">Arbitrary units</text>
<text x="612.5" y="157.3" font-size="10.2" font-weight="bold" text-anchor="middle" textLength="26.4" lengthAdjust="spacingAndGlyphs" fill="#1a1a1a" stroke="#1a1a1a" stroke-width="0.3">RA(h)</text>
<text x="593.2" y="28.6" font-size="10.7" font-weight="bold" text-anchor="start" textLength="23.7" lengthAdjust="spacingAndGlyphs" fill="#111" >36B4</text>
<polyline points="565.30,68.89 576.66,67.08 599.38,77.03 633.46,76.13" fill="none" stroke="#111" stroke-width="1"/>
<line x1="565.3" y1="48.43699999999998" x2="565.3" y2="86.99" stroke="#111" stroke-width="1"/>
<line x1="563.5" y1="48.43699999999998" x2="567.0999999999999" y2="48.43699999999998" stroke="#111" stroke-width="1"/>
<line x1="563.5" y1="86.99" x2="567.0999999999999" y2="86.99" stroke="#111" stroke-width="1"/>
<polygon points="565.30,66.29 567.40,70.79 563.20,70.79" fill="#fff" stroke="#222" stroke-width="0.75"/>
<line x1="576.66" y1="44.454999999999984" x2="576.66" y2="88.8" stroke="#111" stroke-width="1"/>
<line x1="574.86" y1="44.454999999999984" x2="578.4599999999999" y2="44.454999999999984" stroke="#111" stroke-width="1"/>
<line x1="574.86" y1="88.8" x2="578.4599999999999" y2="88.8" stroke="#111" stroke-width="1"/>
<polygon points="576.66,64.48 578.76,68.98 574.56,68.98" fill="#fff" stroke="#222" stroke-width="0.75"/>
<line x1="599.38" y1="61.64999999999999" x2="599.38" y2="92.42" stroke="#111" stroke-width="1"/>
<line x1="597.58" y1="61.64999999999999" x2="601.18" y2="61.64999999999999" stroke="#111" stroke-width="1"/>
<line x1="597.58" y1="92.42" x2="601.18" y2="92.42" stroke="#111" stroke-width="1"/>
<polygon points="599.38,74.44 601.48,78.94 597.28,78.94" fill="#fff" stroke="#222" stroke-width="0.75"/>
<line x1="633.4599999999999" y1="62.55499999999999" x2="633.4599999999999" y2="89.70499999999998" stroke="#111" stroke-width="1"/>
<line x1="631.66" y1="62.55499999999999" x2="635.2599999999999" y2="62.55499999999999" stroke="#111" stroke-width="1"/>
<line x1="631.66" y1="89.70499999999998" x2="635.2599999999999" y2="89.70499999999998" stroke="#111" stroke-width="1"/>
<polygon points="633.46,73.53 635.56,78.03 631.36,78.03" fill="#fff" stroke="#222" stroke-width="0.75"/>
<polyline points="565.30,83.37 576.66,96.04 599.38,81.56 633.46,87.90" fill="none" stroke="#111" stroke-width="1"/>
<line x1="565.3" y1="67.985" x2="565.3" y2="98.755" stroke="#111" stroke-width="1"/>
<line x1="563.5" y1="67.985" x2="567.0999999999999" y2="67.985" stroke="#111" stroke-width="1"/>
<line x1="563.5" y1="98.755" x2="567.0999999999999" y2="98.755" stroke="#111" stroke-width="1"/>
<rect x="563.5" y="80.87" width="3.6" height="5.0" fill="#000"/>
<line x1="576.66" y1="81.55999999999999" x2="576.66" y2="110.52" stroke="#111" stroke-width="1"/>
<line x1="574.86" y1="81.55999999999999" x2="578.4599999999999" y2="81.55999999999999" stroke="#111" stroke-width="1"/>
<line x1="574.86" y1="110.52" x2="578.4599999999999" y2="110.52" stroke="#111" stroke-width="1"/>
<rect x="574.86" y="93.54" width="3.6" height="5.0" fill="#000"/>
<line x1="599.38" y1="72.50999999999999" x2="599.38" y2="91.515" stroke="#111" stroke-width="1"/>
<line x1="597.58" y1="72.50999999999999" x2="601.18" y2="72.50999999999999" stroke="#111" stroke-width="1"/>
<line x1="597.58" y1="91.515" x2="601.18" y2="91.515" stroke="#111" stroke-width="1"/>
<rect x="597.58" y="79.06" width="3.6" height="5.0" fill="#000"/>
<line x1="633.4599999999999" y1="77.94" x2="633.4599999999999" y2="97.85" stroke="#111" stroke-width="1"/>
<line x1="631.66" y1="77.94" x2="635.2599999999999" y2="77.94" stroke="#111" stroke-width="1"/>
<line x1="631.66" y1="97.85" x2="635.2599999999999" y2="97.85" stroke="#111" stroke-width="1"/>
<rect x="631.66" y="85.4" width="3.6" height="5.0" fill="#000"/>
<line x1="301.6" y1="16" x2="301.6" y2="22" stroke="#555" stroke-width="1"/>
<line x1="622.5" y1="40.3" x2="630.5" y2="40.3" stroke="#111" stroke-width="1"/>
<rect x="624.5" y="38" width="4" height="4.6" fill="#000"/>
<line x1="632.7" y1="36.5" x2="632.7" y2="39.5" stroke="#333" stroke-width="0.8"/>
<text x="639.3" y="43" font-size="9.6" font-weight="bold" text-anchor="start" textLength="13.6" lengthAdjust="spacingAndGlyphs" fill="#111" >WT</text>
<line x1="622.5" y1="53.5" x2="630.5" y2="53.5" stroke="#111" stroke-width="1"/>
<polygon points="627.2,51.3 629.4,55.4 625.0,55.4" fill="#fff" stroke="#222" stroke-width="0.75"/>
<text x="636.8" y="57.6" font-size="9.6" font-weight="bold" text-anchor="start" textLength="20.5" lengthAdjust="spacingAndGlyphs" fill="#111" >RAR&#947;</text>
<text x="657.5" y="53.5" font-size="6" text-anchor="start" textLength="7" lengthAdjust="spacingAndGlyphs" fill="#333" >-/-</text>
<text x="13.6" y="187.3" font-size="14.3" font-weight="bold" text-anchor="start" textLength="10" lengthAdjust="spacingAndGlyphs" fill="#000" >F)</text>
<rect x="4" y="188.2" width="670.5" height="1.6" fill="#6e6e6e"/>
<rect x="4" y="188.2" width="1.6" height="241.5" fill="#6e6e6e"/>
<rect x="672.4" y="188.2" width="2" height="241.5" fill="#6e6e6e"/>
<rect x="4" y="428.2" width="670.5" height="1.6" fill="#6e6e6e"/>
<text x="167.7" y="195.9" font-size="6.6" font-weight="bold" text-anchor="start" textLength="236.5" lengthAdjust="spacingAndGlyphs" fill="#111" >LRAT&#160;&#160;-&#160;&#160;chr3:82,965,001-83,005,000 LOG SCALE</text>
<defs><clipPath id="hc"><rect x="5.6" y="196.6" width="548.6" height="121.4"/></clipPath><filter id="hb" color-interpolation-filters="sRGB" x="-1%" y="-5%" width="102%" height="110%"><feGaussianBlur stdDeviation="1.0"/></filter></defs><g clip-path="url(#hc)"><g filter="url(#hb)" shape-rendering="crispEdges"><rect x="2.60" y="193.60" width="30.73" height="8.36" fill="#1128c0"/><rect x="33.03" y="193.60" width="49.67" height="8.36" fill="#0b1888"/><rect x="82.40" y="193.60" width="11.27" height="8.36" fill="#050a40"/><rect x="93.38" y="193.60" width="22.24" height="8.36" fill="#08105c"/><rect x="115.32" y="193.60" width="11.27" height="8.36" fill="#0b1888"/><rect x="126.29" y="193.60" width="5.79" height="8.36" fill="#1128c0"/><rect x="131.78" y="193.60" width="16.76" height="8.36" fill="#1838ea"/><rect x="148.24" y="193.60" width="22.24" height="8.36" fill="#0b1888"/><rect x="170.18" y="193.60" width="175.85" height="8.36" fill="#08105c"/><rect x="345.73" y="193.60" width="5.79" height="8.36" fill="#0b1888"/><rect x="351.22" y="193.60" width="11.27" height="8.36" fill="#38e438"/><rect x="362.19" y="193.60" width="11.27" height="8.36" fill="#30ecf8"/><rect x="373.16" y="193.60" width="11.27" height="8.36" fill="#050a40"/><rect x="384.13" y="193.60" width="5.79" height="8.36" fill="#08105c"/><rect x="389.62" y="193.60" width="5.79" height="8.36" fill="#050a40"/><rect x="395.11" y="193.60" width="49.67" height="8.36" fill="#08105c"/><rect x="444.48" y="193.60" width="5.79" height="8.36" fill="#0b1888"/><rect x="449.97" y="193.60" width="5.79" height="8.36" fill="#1128c0"/><rect x="455.45" y="193.60" width="5.79" height="8.36" fill="#0b1888"/><rect x="460.94" y="193.60" width="49.67" height="8.36" fill="#050a40"/><rect x="510.31" y="193.60" width="16.76" height="8.36" fill="#08105c"/><rect x="526.77" y="193.60" width="11.27" height="8.36" fill="#0b1888"/><rect x="537.74" y="193.60" width="19.76" height="8.36" fill="#08105c"/><rect x="2.60" y="201.66" width="14.27" height="5.36" fill="#1128c0"/><rect x="16.57" y="201.66" width="16.76" height="5.36" fill="#1838ea"/><rect x="33.03" y="201.66" width="38.70" height="5.36" fill="#050a40"/><rect x="71.43" y="201.66" width="11.27" height="5.36" fill="#08105c"/><rect x="82.40" y="201.66" width="22.24" height="5.36" fill="#020424"/><rect x="104.35" y="201.66" width="11.27" height="5.36" fill="#050a40"/><rect x="115.32" y="201.66" width="11.27" height="5.36" fill="#020424"/><rect x="126.29" y="201.66" width="5.79" height="5.36" fill="#0b1888"/><rect x="131.78" y="201.66" width="16.76" height="5.36" fill="#1128c0"/><rect x="148.24" y="201.66" width="11.27" height="5.36" fill="#020424"/><rect x="159.21" y="201.66" width="11.27" height="5.36" fill="#050a40"/><rect x="170.18" y="201.66" width="38.70" height="5.36" fill="#08105c"/><rect x="208.58" y="201.66" width="27.73" height="5.36" fill="#050a40"/><rect x="236.01" y="201.66" width="44.19" height="5.36" fill="#08105c"/><rect x="279.90" y="201.66" width="22.24" height="5.36" fill="#050a40"/><rect x="301.84" y="201.66" width="33.22" height="5.36" fill="#08105c"/><rect x="334.76" y="201.66" width="11.27" height="5.36" fill="#050a40"/><rect x="345.73" y="201.66" width="5.79" height="5.36" fill="#1128c0"/><rect x="351.22" y="201.66" width="11.27" height="5.36" fill="#30ecf8"/><rect x="362.19" y="201.66" width="11.27" height="5.36" fill="#2c7cf8"/><rect x="373.16" y="201.66" width="11.27" height="5.36" fill="#020424"/><rect x="384.13" y="201.66" width="5.79" height="5.36" fill="#050a40"/><rect x="389.62" y="201.66" width="5.79" height="5.36" fill="#020424"/><rect x="395.11" y="201.66" width="11.27" height="5.36" fill="#050a40"/><rect x="406.08" y="201.66" width="27.73" height="5.36" fill="#08105c"/><rect x="433.51" y="201.66" width="5.79" height="5.36" fill="#050a40"/><rect x="438.99" y="201.66" width="27.73" height="5.36" fill="#020424"/><rect x="466.42" y="201.66" width="11.27" height="5.36" fill="#000008"/><rect x="477.40" y="201.66" width="22.24" height="5.36" fill="#020424"/><rect x="499.34" y="201.66" width="11.27" height="5.36" fill="#050a40"/><rect x="510.31" y="201.66" width="11.27" height="5.36" fill="#08105c"/><rect x="521.28" y="201.66" width="16.76" height="5.36" fill="#0b1888"/><rect x="537.74" y="201.66" width="5.79" height="5.36" fill="#08105c"/><rect x="543.23" y="201.66" width="14.27" height="5.36" fill="#050a40"/><rect x="2.60" y="206.72" width="14.27" height="5.36" fill="#1128c0"/><rect x="16.57" y="206.72" width="16.76" height="5.36" fill="#1838ea"/><rect x="33.03" y="206.72" width="49.67" height="5.36" fill="#0b1888"/><rect x="82.40" y="206.72" width="5.79" height="5.36" fill="#020424"/><rect x="87.89" y="206.72" width="27.73" height="5.36" fill="#050a40"/><rect x="115.32" y="206.72" width="11.27" height="5.36" fill="#08105c"/><rect x="126.29" y="206.72" width="5.79" height="5.36" fill="#0b1888"/><rect x="131.78" y="206.72" width="16.76" height="5.36" fill="#1838ea"/><rect x="148.24" y="206.72" width="5.79" height="5.36" fill="#0b1888"/><rect x="153.72" y="206.72" width="55.16" height="5.36" fill="#08105c"/><rect x="208.58" y="206.72" width="5.79" height="5.36" fill="#050a40"/><rect x="214.07" y="206.72" width="5.79" height="5.36" fill="#08105c"/><rect x="219.55" y="206.72" width="16.76" height="5.36" fill="#0b1888"/><rect x="236.01" y="206.72" width="5.79" height="5.36" fill="#050a40"/><rect x="241.50" y="206.72" width="49.67" height="5.36" fill="#08105c"/><rect x="290.87" y="206.72" width="11.27" height="5.36" fill="#0b1888"/><rect x="301.84" y="206.72" width="5.79" height="5.36" fill="#050a40"/><rect x="307.33" y="206.72" width="38.70" height="5.36" fill="#08105c"/><rect x="345.73" y="206.72" width="5.79" height="5.36" fill="#1128c0"/><rect x="351.22" y="206.72" width="11.27" height="5.36" fill="#38e438"/><rect x="362.19" y="206.72" width="11.27" height="5.36" fill="#40f0b0"/><rect x="373.16" y="206.72" width="5.79" height="5.36" fill="#050a40"/><rect x="378.65" y="206.72" width="11.27" height="5.36" fill="#08105c"/><rect x="389.62" y="206.72" width="5.79" height="5.36" fill="#050a40"/><rect x="395.11" y="206.72" width="11.27" height="5.36" fill="#08105c"/><rect x="406.08" y="206.72" width="16.76" height="5.36" fill="#0b1888"/><rect x="422.54" y="206.72" width="16.76" height="5.36" fill="#08105c"/><rect x="438.99" y="206.72" width="22.24" height="5.36" fill="#020424"/><rect x="460.94" y="206.72" width="16.76" height="5.36" fill="#08105c"/><rect x="477.40" y="206.72" width="22.24" height="5.36" fill="#020424"/><rect x="499.34" y="206.72" width="5.79" height="5.36" fill="#050a40"/><rect x="504.83" y="206.72" width="11.27" height="5.36" fill="#08105c"/><rect x="515.80" y="206.72" width="5.79" height="5.36" fill="#0b1888"/><rect x="521.28" y="206.72" width="5.79" height="5.36" fill="#1128c0"/><rect x="526.77" y="206.72" width="11.27" height="5.36" fill="#1838ea"/><rect x="537.74" y="206.72" width="5.79" height="5.36" fill="#0b1888"/><rect x="543.23" y="206.72" width="14.27" height="5.36" fill="#050a40"/><rect x="2.60" y="211.78" width="8.79" height="5.36" fill="#0b1888"/><rect x="11.09" y="211.78" width="5.79" height="5.36" fill="#1128c0"/><rect x="16.57" y="211.78" width="11.27" height="5.36" fill="#1838ea"/><rect x="27.54" y="211.78" width="5.79" height="5.36" fill="#1128c0"/><rect x="33.03" y="211.78" width="5.79" height="5.36" fill="#08105c"/><rect x="38.52" y="211.78" width="16.76" height="5.36" fill="#020424"/><rect x="54.97" y="211.78" width="5.79" height="5.36" fill="#08105c"/><rect x="60.46" y="211.78" width="22.24" height="5.36" fill="#0b1888"/><rect x="82.40" y="211.78" width="5.79" height="5.36" fill="#000008"/><rect x="87.89" y="211.78" width="11.27" height="5.36" fill="#020424"/><rect x="98.86" y="211.78" width="11.27" height="5.36" fill="#050a40"/><rect x="109.83" y="211.78" width="5.79" height="5.36" fill="#020424"/><rect x="115.32" y="211.78" width="5.79" height="5.36" fill="#1128c0"/><rect x="120.81" y="211.78" width="5.79" height="5.36" fill="#08105c"/><rect x="126.29" y="211.78" width="5.79" height="5.36" fill="#0b1888"/><rect x="131.78" y="211.78" width="5.79" height="5.36" fill="#1128c0"/><rect x="137.26" y="211.78" width="11.27" height="5.36" fill="#0b1888"/><rect x="148.24" y="211.78" width="22.24" height="5.36" fill="#050a40"/><rect x="170.18" y="211.78" width="33.22" height="5.36" fill="#08105c"/><rect x="203.10" y="211.78" width="5.79" height="5.36" fill="#020424"/><rect x="208.58" y="211.78" width="71.62" height="5.36" fill="#08105c"/><rect x="279.90" y="211.78" width="22.24" height="5.36" fill="#050a40"/><rect x="301.84" y="211.78" width="16.76" height="5.36" fill="#08105c"/><rect x="318.30" y="211.78" width="16.76" height="5.36" fill="#0b1888"/><rect x="334.76" y="211.78" width="11.27" height="5.36" fill="#08105c"/><rect x="345.73" y="211.78" width="5.79" height="5.36" fill="#1128c0"/><rect x="351.22" y="211.78" width="11.27" height="5.36" fill="#38e438"/><rect x="362.19" y="211.78" width="11.27" height="5.36" fill="#2c7cf8"/><rect x="373.16" y="211.78" width="5.79" height="5.36" fill="#020424"/><rect x="378.65" y="211.78" width="16.76" height="5.36" fill="#050a40"/><rect x="395.11" y="211.78" width="11.27" height="5.36" fill="#08105c"/><rect x="406.08" y="211.78" width="22.24" height="5.36" fill="#0b1888"/><rect x="428.02" y="211.78" width="5.79" height="5.36" fill="#08105c"/><rect x="433.51" y="211.78" width="5.79" height="5.36" fill="#050a40"/><rect x="438.99" y="211.78" width="22.24" height="5.36" fill="#020424"/><rect x="460.94" y="211.78" width="5.79" height="5.36" fill="#050a40"/><rect x="466.42" y="211.78" width="11.27" height="5.36" fill="#08105c"/><rect x="477.40" y="211.78" width="11.27" height="5.36" fill="#000008"/><rect x="488.37" y="211.78" width="11.27" height="5.36" fill="#020424"/><rect x="499.34" y="211.78" width="11.27" height="5.36" fill="#08105c"/><rect x="510.31" y="211.78" width="11.27" height="5.36" fill="#0b1888"/><rect x="521.28" y="211.78" width="5.79" height="5.36" fill="#1128c0"/><rect x="526.77" y="211.78" width="11.27" height="5.36" fill="#1838ea"/><rect x="537.74" y="211.78" width="5.79" height="5.36" fill="#0b1888"/><rect x="543.23" y="211.78" width="14.27" height="5.36" fill="#050a40"/><rect x="2.60" y="216.83" width="30.73" height="5.36" fill="#0b1888"/><rect x="33.03" y="216.83" width="5.79" height="5.36" fill="#08105c"/><rect x="38.52" y="216.83" width="16.76" height="5.36" fill="#000008"/><rect x="54.97" y="216.83" width="5.79" height="5.36" fill="#050a40"/><rect x="60.46" y="216.83" width="22.24" height="5.36" fill="#08105c"/><rect x="82.40" y="216.83" width="5.79" height="5.36" fill="#000008"/><rect x="87.89" y="216.83" width="22.24" height="5.36" fill="#020424"/><rect x="109.83" y="216.83" width="5.79" height="5.36" fill="#050a40"/><rect x="115.32" y="216.83" width="11.27" height="5.36" fill="#08105c"/><rect x="126.29" y="216.83" width="5.79" height="5.36" fill="#0b1888"/><rect x="131.78" y="216.83" width="16.76" height="5.36" fill="#1128c0"/><rect x="148.24" y="216.83" width="11.27" height="5.36" fill="#020424"/><rect x="159.21" y="216.83" width="11.27" height="5.36" fill="#050a40"/><rect x="170.18" y="216.83" width="5.79" height="5.36" fill="#020424"/><rect x="175.67" y="216.83" width="27.73" height="5.36" fill="#08105c"/><rect x="203.10" y="216.83" width="11.27" height="5.36" fill="#020424"/><rect x="214.07" y="216.83" width="66.13" height="5.36" fill="#08105c"/><rect x="279.90" y="216.83" width="22.24" height="5.36" fill="#050a40"/><rect x="301.84" y="216.83" width="33.22" height="5.36" fill="#08105c"/><rect x="334.76" y="216.83" width="5.79" height="5.36" fill="#020424"/><rect x="340.25" y="216.83" width="5.79" height="5.36" fill="#000008"/><rect x="345.73" y="216.83" width="5.79" height="5.36" fill="#050a40"/><rect x="351.22" y="216.83" width="11.27" height="5.36" fill="#2c7cf8"/><rect x="362.19" y="216.83" width="11.27" height="5.36" fill="#2052f8"/><rect x="373.16" y="216.83" width="22.24" height="5.36" fill="#020424"/><rect x="395.11" y="216.83" width="5.79" height="5.36" fill="#050a40"/><rect x="400.59" y="216.83" width="33.22" height="5.36" fill="#08105c"/><rect x="433.51" y="216.83" width="5.79" height="5.36" fill="#050a40"/><rect x="438.99" y="216.83" width="33.22" height="5.36" fill="#020424"/><rect x="471.91" y="216.83" width="16.76" height="5.36" fill="#000008"/><rect x="488.37" y="216.83" width="11.27" height="5.36" fill="#020424"/><rect x="499.34" y="216.83" width="5.79" height="5.36" fill="#050a40"/><rect x="504.83" y="216.83" width="11.27" height="5.36" fill="#08105c"/><rect x="515.80" y="216.83" width="22.24" height="5.36" fill="#0b1888"/><rect x="537.74" y="216.83" width="5.79" height="5.36" fill="#08105c"/><rect x="543.23" y="216.83" width="14.27" height="5.36" fill="#020424"/><rect x="2.60" y="221.89" width="30.73" height="5.36" fill="#0b1888"/><rect x="33.03" y="221.89" width="27.73" height="5.36" fill="#08105c"/><rect x="60.46" y="221.89" width="22.24" height="5.36" fill="#0b1888"/><rect x="82.40" y="221.89" width="5.79" height="5.36" fill="#020424"/><rect x="87.89" y="221.89" width="27.73" height="5.36" fill="#050a40"/><rect x="115.32" y="221.89" width="11.27" height="5.36" fill="#08105c"/><rect x="126.29" y="221.89" width="5.79" height="5.36" fill="#0b1888"/><rect x="131.78" y="221.89" width="16.76" height="5.36" fill="#1838ea"/><rect x="148.24" y="221.89" width="49.67" height="5.36" fill="#08105c"/><rect x="197.61" y="221.89" width="11.27" height="5.36" fill="#0b1888"/><rect x="208.58" y="221.89" width="5.79" height="5.36" fill="#08105c"/><rect x="214.07" y="221.89" width="11.27" height="5.36" fill="#0b1888"/><rect x="225.04" y="221.89" width="16.76" height="5.36" fill="#08105c"/><rect x="241.50" y="221.89" width="11.27" height="5.36" fill="#0b1888"/><rect x="252.47" y="221.89" width="22.24" height="5.36" fill="#08105c"/><rect x="274.41" y="221.89" width="5.79" height="5.36" fill="#050a40"/><rect x="279.90" y="221.89" width="22.24" height="5.36" fill="#020424"/><rect x="301.84" y="221.89" width="11.27" height="5.36" fill="#08105c"/><rect x="312.82" y="221.89" width="5.79" height="5.36" fill="#0b1888"/><rect x="318.30" y="221.89" width="11.27" height="5.36" fill="#1128c0"/><rect x="329.27" y="221.89" width="5.79" height="5.36" fill="#0b1888"/><rect x="334.76" y="221.89" width="5.79" height="5.36" fill="#050a40"/><rect x="340.25" y="221.89" width="5.79" height="5.36" fill="#020424"/><rect x="345.73" y="221.89" width="5.79" height="5.36" fill="#08105c"/><rect x="351.22" y="221.89" width="11.27" height="5.36" fill="#30ecf8"/><rect x="362.19" y="221.89" width="11.27" height="5.36" fill="#34b4f8"/><rect x="373.16" y="221.89" width="5.79" height="5.36" fill="#020424"/><rect x="378.65" y="221.89" width="16.76" height="5.36" fill="#050a40"/><rect x="395.11" y="221.89" width="44.19" height="5.36" fill="#08105c"/><rect x="438.99" y="221.89" width="5.79" height="5.36" fill="#020424"/><rect x="444.48" y="221.89" width="5.79" height="5.36" fill="#050a40"/><rect x="449.97" y="221.89" width="11.27" height="5.36" fill="#08105c"/><rect x="460.94" y="221.89" width="5.79" height="5.36" fill="#050a40"/><rect x="466.42" y="221.89" width="5.79" height="5.36" fill="#020424"/><rect x="471.91" y="221.89" width="16.76" height="5.36" fill="#000008"/><rect x="488.37" y="221.89" width="11.27" height="5.36" fill="#020424"/><rect x="499.34" y="221.89" width="5.79" height="5.36" fill="#050a40"/><rect x="504.83" y="221.89" width="11.27" height="5.36" fill="#08105c"/><rect x="515.80" y="221.89" width="5.79" height="5.36" fill="#0b1888"/><rect x="521.28" y="221.89" width="5.79" height="5.36" fill="#1128c0"/><rect x="526.77" y="221.89" width="11.27" height="5.36" fill="#1838ea"/><rect x="537.74" y="221.89" width="5.79" height="5.36" fill="#0b1888"/><rect x="543.23" y="221.89" width="14.27" height="5.36" fill="#020424"/><rect x="2.60" y="226.95" width="25.24" height="5.36" fill="#0b1888"/><rect x="27.54" y="226.95" width="55.16" height="5.36" fill="#08105c"/><rect x="82.40" y="226.95" width="11.27" height="5.36" fill="#020424"/><rect x="93.38" y="226.95" width="5.79" height="5.36" fill="#050a40"/><rect x="98.86" y="226.95" width="11.27" height="5.36" fill="#020424"/><rect x="109.83" y="226.95" width="5.79" height="5.36" fill="#050a40"/><rect x="115.32" y="226.95" width="11.27" height="5.36" fill="#08105c"/><rect x="126.29" y="226.95" width="5.79" height="5.36" fill="#0b1888"/><rect x="131.78" y="226.95" width="16.76" height="5.36" fill="#1128c0"/><rect x="148.24" y="226.95" width="11.27" height="5.36" fill="#020424"/><rect x="159.21" y="226.95" width="11.27" height="5.36" fill="#050a40"/><rect x="170.18" y="226.95" width="11.27" height="5.36" fill="#020424"/><rect x="181.15" y="226.95" width="22.24" height="5.36" fill="#08105c"/><rect x="203.10" y="226.95" width="5.79" height="5.36" fill="#050a40"/><rect x="208.58" y="226.95" width="16.76" height="5.36" fill="#08105c"/><rect x="225.04" y="226.95" width="16.76" height="5.36" fill="#050a40"/><rect x="241.50" y="226.95" width="38.70" height="5.36" fill="#08105c"/><rect x="279.90" y="226.95" width="22.24" height="5.36" fill="#050a40"/><rect x="301.84" y="226.95" width="16.76" height="5.36" fill="#08105c"/><rect x="318.30" y="226.95" width="11.27" height="5.36" fill="#050a40"/><rect x="329.27" y="226.95" width="16.76" height="5.36" fill="#08105c"/><rect x="345.73" y="226.95" width="5.79" height="5.36" fill="#1128c0"/><rect x="351.22" y="226.95" width="11.27" height="5.36" fill="#30ecf8"/><rect x="362.19" y="226.95" width="11.27" height="5.36" fill="#34b4f8"/><rect x="373.16" y="226.95" width="11.27" height="5.36" fill="#020424"/><rect x="384.13" y="226.95" width="5.79" height="5.36" fill="#050a40"/><rect x="389.62" y="226.95" width="5.79" height="5.36" fill="#020424"/><rect x="395.11" y="226.95" width="16.76" height="5.36" fill="#050a40"/><rect x="411.56" y="226.95" width="16.76" height="5.36" fill="#08105c"/><rect x="428.02" y="226.95" width="11.27" height="5.36" fill="#050a40"/><rect x="438.99" y="226.95" width="60.65" height="5.36" fill="#020424"/><rect x="499.34" y="226.95" width="11.27" height="5.36" fill="#050a40"/><rect x="510.31" y="226.95" width="11.27" height="5.36" fill="#08105c"/><rect x="521.28" y="226.95" width="16.76" height="5.36" fill="#0b1888"/><rect x="537.74" y="226.95" width="5.79" height="5.36" fill="#08105c"/><rect x="543.23" y="226.95" width="14.27" height="5.36" fill="#020424"/><rect x="2.60" y="232.01" width="80.10" height="5.36" fill="#0b1888"/><rect x="82.40" y="232.01" width="11.27" height="5.36" fill="#050a40"/><rect x="93.38" y="232.01" width="22.24" height="5.36" fill="#08105c"/><rect x="115.32" y="232.01" width="16.76" height="5.36" fill="#0b1888"/><rect x="131.78" y="232.01" width="16.76" height="5.36" fill="#1128c0"/><rect x="148.24" y="232.01" width="131.96" height="5.36" fill="#08105c"/><rect x="279.90" y="232.01" width="11.27" height="5.36" fill="#020424"/><rect x="290.87" y="232.01" width="11.27" height="5.36" fill="#050a40"/><rect x="301.84" y="232.01" width="44.19" height="5.36" fill="#08105c"/><rect x="345.73" y="232.01" width="5.79" height="5.36" fill="#1128c0"/><rect x="351.22" y="232.01" width="22.24" height="5.36" fill="#30ecf8"/><rect x="373.16" y="232.01" width="11.27" height="5.36" fill="#020424"/><rect x="384.13" y="232.01" width="11.27" height="5.36" fill="#050a40"/><rect x="395.11" y="232.01" width="44.19" height="5.36" fill="#08105c"/><rect x="438.99" y="232.01" width="5.79" height="5.36" fill="#050a40"/><rect x="444.48" y="232.01" width="11.27" height="5.36" fill="#020424"/><rect x="455.45" y="232.01" width="49.67" height="5.36" fill="#050a40"/><rect x="504.83" y="232.01" width="38.70" height="5.36" fill="#08105c"/><rect x="543.23" y="232.01" width="14.27" height="5.36" fill="#050a40"/><rect x="2.60" y="237.07" width="69.13" height="5.36" fill="#1838ea"/><rect x="71.43" y="237.07" width="5.79" height="5.36" fill="#1128c0"/><rect x="76.92" y="237.07" width="5.79" height="5.36" fill="#0b1888"/><rect x="82.40" y="237.07" width="16.76" height="5.36" fill="#1838ea"/><rect x="98.86" y="237.07" width="16.76" height="5.36" fill="#1128c0"/><rect x="115.32" y="237.07" width="5.79" height="5.36" fill="#0b1888"/><rect x="120.81" y="237.07" width="11.27" height="5.36" fill="#1838ea"/><rect x="131.78" y="237.07" width="22.24" height="5.36" fill="#0b1888"/><rect x="153.72" y="237.07" width="5.79" height="5.36" fill="#1128c0"/><rect x="159.21" y="237.07" width="11.27" height="5.36" fill="#1838ea"/><rect x="170.18" y="237.07" width="11.27" height="5.36" fill="#1128c0"/><rect x="181.15" y="237.07" width="5.79" height="5.36" fill="#0b1888"/><rect x="186.64" y="237.07" width="22.24" height="5.36" fill="#08105c"/><rect x="208.58" y="237.07" width="16.76" height="5.36" fill="#1128c0"/><rect x="225.04" y="237.07" width="5.79" height="5.36" fill="#08105c"/><rect x="230.53" y="237.07" width="22.24" height="5.36" fill="#0b1888"/><rect x="252.47" y="237.07" width="22.24" height="5.36" fill="#08105c"/><rect x="274.41" y="237.07" width="5.79" height="5.36" fill="#0b1888"/><rect x="279.90" y="237.07" width="5.79" height="5.36" fill="#050a40"/><rect x="285.39" y="237.07" width="5.79" height="5.36" fill="#08105c"/><rect x="290.87" y="237.07" width="11.27" height="5.36" fill="#1838ea"/><rect x="301.84" y="237.07" width="5.79" height="5.36" fill="#0b1888"/><rect x="307.33" y="237.07" width="5.79" height="5.36" fill="#08105c"/><rect x="312.82" y="237.07" width="16.76" height="5.36" fill="#1128c0"/><rect x="329.27" y="237.07" width="5.79" height="5.36" fill="#1838ea"/><rect x="334.76" y="237.07" width="5.79" height="5.36" fill="#2052f8"/><rect x="340.25" y="237.07" width="11.27" height="5.36" fill="#a8ee28"/><rect x="351.22" y="237.07" width="22.24" height="5.36" fill="#30ecf8"/><rect x="373.16" y="237.07" width="11.27" height="5.36" fill="#38e438"/><rect x="384.13" y="237.07" width="5.79" height="5.36" fill="#2c7cf8"/><rect x="389.62" y="237.07" width="5.79" height="5.36" fill="#2052f8"/><rect x="395.11" y="237.07" width="5.79" height="5.36" fill="#1128c0"/><rect x="400.59" y="237.07" width="33.22" height="5.36" fill="#08105c"/><rect x="433.51" y="237.07" width="5.79" height="5.36" fill="#0b1888"/><rect x="438.99" y="237.07" width="49.67" height="5.36" fill="#1838ea"/><rect x="488.37" y="237.07" width="11.27" height="5.36" fill="#0b1888"/><rect x="499.34" y="237.07" width="11.27" height="5.36" fill="#1128c0"/><rect x="510.31" y="237.07" width="16.76" height="5.36" fill="#08105c"/><rect x="526.77" y="237.07" width="11.27" height="5.36" fill="#0b1888"/><rect x="537.74" y="237.07" width="5.79" height="5.36" fill="#1838ea"/><rect x="543.23" y="237.07" width="14.27" height="5.36" fill="#2c7cf8"/><rect x="2.60" y="242.12" width="36.22" height="5.36" fill="#1838ea"/><rect x="38.52" y="242.12" width="16.76" height="5.36" fill="#08105c"/><rect x="54.97" y="242.12" width="16.76" height="5.36" fill="#050a40"/><rect x="71.43" y="242.12" width="11.27" height="5.36" fill="#1128c0"/><rect x="82.40" y="242.12" width="11.27" height="5.36" fill="#1838ea"/><rect x="93.38" y="242.12" width="11.27" height="5.36" fill="#1128c0"/><rect x="104.35" y="242.12" width="5.79" height="5.36" fill="#050a40"/><rect x="109.83" y="242.12" width="5.79" height="5.36" fill="#08105c"/><rect x="115.32" y="242.12" width="16.76" height="5.36" fill="#1128c0"/><rect x="131.78" y="242.12" width="22.24" height="5.36" fill="#050a40"/><rect x="153.72" y="242.12" width="5.79" height="5.36" fill="#0b1888"/><rect x="159.21" y="242.12" width="16.76" height="5.36" fill="#1838ea"/><rect x="175.67" y="242.12" width="11.27" height="5.36" fill="#1128c0"/><rect x="186.64" y="242.12" width="16.76" height="5.36" fill="#0b1888"/><rect x="203.10" y="242.12" width="5.79" height="5.36" fill="#08105c"/><rect x="208.58" y="242.12" width="16.76" height="5.36" fill="#0b1888"/><rect x="225.04" y="242.12" width="5.79" height="5.36" fill="#08105c"/><rect x="230.53" y="242.12" width="5.79" height="5.36" fill="#0b1888"/><rect x="236.01" y="242.12" width="16.76" height="5.36" fill="#1128c0"/><rect x="252.47" y="242.12" width="27.73" height="5.36" fill="#08105c"/><rect x="279.90" y="242.12" width="5.79" height="5.36" fill="#050a40"/><rect x="285.39" y="242.12" width="5.79" height="5.36" fill="#08105c"/><rect x="290.87" y="242.12" width="11.27" height="5.36" fill="#1838ea"/><rect x="301.84" y="242.12" width="27.73" height="5.36" fill="#1128c0"/><rect x="329.27" y="242.12" width="11.27" height="5.36" fill="#2c7cf8"/><rect x="340.25" y="242.12" width="11.27" height="5.36" fill="#30ecf8"/><rect x="351.22" y="242.12" width="5.79" height="5.36" fill="#2052f8"/><rect x="356.70" y="242.12" width="5.79" height="5.36" fill="#1838ea"/><rect x="362.19" y="242.12" width="5.79" height="5.36" fill="#2c7cf8"/><rect x="367.68" y="242.12" width="5.79" height="5.36" fill="#1838ea"/><rect x="373.16" y="242.12" width="11.27" height="5.36" fill="#38e438"/><rect x="384.13" y="242.12" width="11.27" height="5.36" fill="#1838ea"/><rect x="395.11" y="242.12" width="5.79" height="5.36" fill="#0b1888"/><rect x="400.59" y="242.12" width="5.79" height="5.36" fill="#08105c"/><rect x="406.08" y="242.12" width="5.79" height="5.36" fill="#1128c0"/><rect x="411.56" y="242.12" width="11.27" height="5.36" fill="#1838ea"/><rect x="422.54" y="242.12" width="5.79" height="5.36" fill="#08105c"/><rect x="428.02" y="242.12" width="5.79" height="5.36" fill="#020424"/><rect x="433.51" y="242.12" width="5.79" height="5.36" fill="#0b1888"/><rect x="438.99" y="242.12" width="22.24" height="5.36" fill="#1838ea"/><rect x="460.94" y="242.12" width="5.79" height="5.36" fill="#1128c0"/><rect x="466.42" y="242.12" width="5.79" height="5.36" fill="#0b1888"/><rect x="471.91" y="242.12" width="5.79" height="5.36" fill="#1128c0"/><rect x="477.40" y="242.12" width="11.27" height="5.36" fill="#1838ea"/><rect x="488.37" y="242.12" width="11.27" height="5.36" fill="#0b1888"/><rect x="499.34" y="242.12" width="11.27" height="5.36" fill="#1838ea"/><rect x="510.31" y="242.12" width="11.27" height="5.36" fill="#020424"/><rect x="521.28" y="242.12" width="5.79" height="5.36" fill="#08105c"/><rect x="526.77" y="242.12" width="11.27" height="5.36" fill="#1838ea"/><rect x="537.74" y="242.12" width="5.79" height="5.36" fill="#2052f8"/><rect x="543.23" y="242.12" width="14.27" height="5.36" fill="#2c7cf8"/><rect x="2.60" y="247.18" width="25.24" height="5.36" fill="#1128c0"/><rect x="27.54" y="247.18" width="11.27" height="5.36" fill="#1838ea"/><rect x="38.52" y="247.18" width="33.22" height="5.36" fill="#08105c"/><rect x="71.43" y="247.18" width="16.76" height="5.36" fill="#020424"/><rect x="87.89" y="247.18" width="11.27" height="5.36" fill="#1128c0"/><rect x="98.86" y="247.18" width="16.76" height="5.36" fill="#0b1888"/><rect x="115.32" y="247.18" width="11.27" height="5.36" fill="#1128c0"/><rect x="126.29" y="247.18" width="5.79" height="5.36" fill="#08105c"/><rect x="131.78" y="247.18" width="22.24" height="5.36" fill="#000008"/><rect x="153.72" y="247.18" width="5.79" height="5.36" fill="#08105c"/><rect x="159.21" y="247.18" width="11.27" height="5.36" fill="#1838ea"/><rect x="170.18" y="247.18" width="11.27" height="5.36" fill="#0b1888"/><rect x="181.15" y="247.18" width="5.79" height="5.36" fill="#08105c"/><rect x="186.64" y="247.18" width="11.27" height="5.36" fill="#050a40"/><rect x="197.61" y="247.18" width="5.79" height="5.36" fill="#08105c"/><rect x="203.10" y="247.18" width="11.27" height="5.36" fill="#0b1888"/><rect x="214.07" y="247.18" width="5.79" height="5.36" fill="#08105c"/><rect x="219.55" y="247.18" width="11.27" height="5.36" fill="#020424"/><rect x="230.53" y="247.18" width="5.79" height="5.36" fill="#08105c"/><rect x="236.01" y="247.18" width="16.76" height="5.36" fill="#1128c0"/><rect x="252.47" y="247.18" width="5.79" height="5.36" fill="#08105c"/><rect x="257.96" y="247.18" width="5.79" height="5.36" fill="#1128c0"/><rect x="263.44" y="247.18" width="11.27" height="5.36" fill="#0b1888"/><rect x="274.41" y="247.18" width="5.79" height="5.36" fill="#08105c"/><rect x="279.90" y="247.18" width="5.79" height="5.36" fill="#020424"/><rect x="285.39" y="247.18" width="5.79" height="5.36" fill="#050a40"/><rect x="290.87" y="247.18" width="11.27" height="5.36" fill="#08105c"/><rect x="301.84" y="247.18" width="27.73" height="5.36" fill="#0b1888"/><rect x="329.27" y="247.18" width="11.27" height="5.36" fill="#2c7cf8"/><rect x="340.25" y="247.18" width="11.27" height="5.36" fill="#30ecf8"/><rect x="351.22" y="247.18" width="5.79" height="5.36" fill="#2052f8"/><rect x="356.70" y="247.18" width="5.79" height="5.36" fill="#1838ea"/><rect x="362.19" y="247.18" width="5.79" height="5.36" fill="#2c7cf8"/><rect x="367.68" y="247.18" width="5.79" height="5.36" fill="#1838ea"/><rect x="373.16" y="247.18" width="11.27" height="5.36" fill="#40f0b0"/><rect x="384.13" y="247.18" width="11.27" height="5.36" fill="#1838ea"/><rect x="395.11" y="247.18" width="5.79" height="5.36" fill="#0b1888"/><rect x="400.59" y="247.18" width="5.79" height="5.36" fill="#050a40"/><rect x="406.08" y="247.18" width="5.79" height="5.36" fill="#0b1888"/><rect x="411.56" y="247.18" width="11.27" height="5.36" fill="#1838ea"/><rect x="422.54" y="247.18" width="11.27" height="5.36" fill="#08105c"/><rect x="433.51" y="247.18" width="5.79" height="5.36" fill="#0b1888"/><rect x="438.99" y="247.18" width="5.79" height="5.36" fill="#1838ea"/><rect x="444.48" y="247.18" width="5.79" height="5.36" fill="#0b1888"/><rect x="449.97" y="247.18" width="5.79" height="5.36" fill="#1128c0"/><rect x="455.45" y="247.18" width="27.73" height="5.36" fill="#1838ea"/><rect x="482.88" y="247.18" width="5.79" height="5.36" fill="#0b1888"/><rect x="488.37" y="247.18" width="11.27" height="5.36" fill="#020424"/><rect x="499.34" y="247.18" width="11.27" height="5.36" fill="#0b1888"/><rect x="510.31" y="247.18" width="16.76" height="5.36" fill="#050a40"/><rect x="526.77" y="247.18" width="11.27" height="5.36" fill="#08105c"/><rect x="537.74" y="247.18" width="5.79" height="5.36" fill="#1128c0"/><rect x="543.23" y="247.18" width="14.27" height="5.36" fill="#2052f8"/><rect x="2.60" y="252.24" width="25.24" height="5.36" fill="#050a40"/><rect x="27.54" y="252.24" width="11.27" height="5.36" fill="#1838ea"/><rect x="38.52" y="252.24" width="22.24" height="5.36" fill="#08105c"/><rect x="60.46" y="252.24" width="16.76" height="5.36" fill="#0b1888"/><rect x="76.92" y="252.24" width="5.79" height="5.36" fill="#1838ea"/><rect x="82.40" y="252.24" width="5.79" height="5.36" fill="#000008"/><rect x="87.89" y="252.24" width="11.27" height="5.36" fill="#0b1888"/><rect x="98.86" y="252.24" width="16.76" height="5.36" fill="#1128c0"/><rect x="115.32" y="252.24" width="5.79" height="5.36" fill="#0b1888"/><rect x="120.81" y="252.24" width="11.27" height="5.36" fill="#1128c0"/><rect x="131.78" y="252.24" width="22.24" height="5.36" fill="#1838ea"/><rect x="153.72" y="252.24" width="11.27" height="5.36" fill="#050a40"/><rect x="164.69" y="252.24" width="5.79" height="5.36" fill="#08105c"/><rect x="170.18" y="252.24" width="16.76" height="5.36" fill="#050a40"/><rect x="186.64" y="252.24" width="16.76" height="5.36" fill="#020424"/><rect x="203.10" y="252.24" width="27.73" height="5.36" fill="#08105c"/><rect x="230.53" y="252.24" width="5.79" height="5.36" fill="#050a40"/><rect x="236.01" y="252.24" width="33.22" height="5.36" fill="#020424"/><rect x="268.93" y="252.24" width="5.79" height="5.36" fill="#050a40"/><rect x="274.41" y="252.24" width="5.79" height="5.36" fill="#0b1888"/><rect x="279.90" y="252.24" width="5.79" height="5.36" fill="#08105c"/><rect x="285.39" y="252.24" width="5.79" height="5.36" fill="#0b1888"/><rect x="290.87" y="252.24" width="11.27" height="5.36" fill="#1838ea"/><rect x="301.84" y="252.24" width="11.27" height="5.36" fill="#08105c"/><rect x="312.82" y="252.24" width="16.76" height="5.36" fill="#0b1888"/><rect x="329.27" y="252.24" width="5.79" height="5.36" fill="#1838ea"/><rect x="334.76" y="252.24" width="5.79" height="5.36" fill="#2c7cf8"/><rect x="340.25" y="252.24" width="44.19" height="5.36" fill="#30ecf8"/><rect x="384.13" y="252.24" width="5.79" height="5.36" fill="#2052f8"/><rect x="389.62" y="252.24" width="5.79" height="5.36" fill="#1838ea"/><rect x="395.11" y="252.24" width="5.79" height="5.36" fill="#1128c0"/><rect x="400.59" y="252.24" width="5.79" height="5.36" fill="#08105c"/><rect x="406.08" y="252.24" width="16.76" height="5.36" fill="#050a40"/><rect x="422.54" y="252.24" width="5.79" height="5.36" fill="#0b1888"/><rect x="428.02" y="252.24" width="16.76" height="5.36" fill="#1128c0"/><rect x="444.48" y="252.24" width="5.79" height="5.36" fill="#08105c"/><rect x="449.97" y="252.24" width="5.79" height="5.36" fill="#0b1888"/><rect x="455.45" y="252.24" width="27.73" height="5.36" fill="#1128c0"/><rect x="482.88" y="252.24" width="5.79" height="5.36" fill="#0b1888"/><rect x="488.37" y="252.24" width="11.27" height="5.36" fill="#08105c"/><rect x="499.34" y="252.24" width="16.76" height="5.36" fill="#050a40"/><rect x="515.80" y="252.24" width="5.79" height="5.36" fill="#020424"/><rect x="521.28" y="252.24" width="16.76" height="5.36" fill="#000008"/><rect x="537.74" y="252.24" width="5.79" height="5.36" fill="#08105c"/><rect x="543.23" y="252.24" width="14.27" height="5.36" fill="#1838ea"/><rect x="2.60" y="257.30" width="14.27" height="5.36" fill="#2052f8"/><rect x="16.57" y="257.30" width="11.27" height="5.36" fill="#34b4f8"/><rect x="27.54" y="257.30" width="5.79" height="5.36" fill="#2c7cf8"/><rect x="33.03" y="257.30" width="22.24" height="5.36" fill="#2052f8"/><rect x="54.97" y="257.30" width="22.24" height="5.36" fill="#1838ea"/><rect x="76.92" y="257.30" width="5.79" height="5.36" fill="#1128c0"/><rect x="82.40" y="257.30" width="38.70" height="5.36" fill="#1838ea"/><rect x="120.81" y="257.30" width="11.27" height="5.36" fill="#2c7cf8"/><rect x="131.78" y="257.30" width="55.16" height="5.36" fill="#1838ea"/><rect x="186.64" y="257.30" width="5.79" height="5.36" fill="#1128c0"/><rect x="192.12" y="257.30" width="5.79" height="5.36" fill="#0b1888"/><rect x="197.61" y="257.30" width="5.79" height="5.36" fill="#1128c0"/><rect x="203.10" y="257.30" width="33.22" height="5.36" fill="#1838ea"/><rect x="236.01" y="257.30" width="22.24" height="5.36" fill="#1128c0"/><rect x="257.96" y="257.30" width="5.79" height="5.36" fill="#1838ea"/><rect x="263.44" y="257.30" width="16.76" height="5.36" fill="#0b1888"/><rect x="279.90" y="257.30" width="5.79" height="5.36" fill="#08105c"/><rect x="285.39" y="257.30" width="5.79" height="5.36" fill="#0b1888"/><rect x="290.87" y="257.30" width="11.27" height="5.36" fill="#2052f8"/><rect x="301.84" y="257.30" width="33.22" height="5.36" fill="#1838ea"/><rect x="334.76" y="257.30" width="5.79" height="5.36" fill="#2c7cf8"/><rect x="340.25" y="257.30" width="11.27" height="5.36" fill="#a8ee28"/><rect x="351.22" y="257.30" width="5.79" height="5.36" fill="#30ecf8"/><rect x="356.70" y="257.30" width="5.79" height="5.36" fill="#2c7cf8"/><rect x="362.19" y="257.30" width="11.27" height="5.36" fill="#30ecf8"/><rect x="373.16" y="257.30" width="5.79" height="5.36" fill="#a8ee28"/><rect x="378.65" y="257.30" width="5.79" height="5.36" fill="#38e438"/><rect x="384.13" y="257.30" width="5.79" height="5.36" fill="#1838ea"/><rect x="389.62" y="257.30" width="5.79" height="5.36" fill="#2052f8"/><rect x="395.11" y="257.30" width="5.79" height="5.36" fill="#0b1888"/><rect x="400.59" y="257.30" width="5.79" height="5.36" fill="#050a40"/><rect x="406.08" y="257.30" width="5.79" height="5.36" fill="#0b1888"/><rect x="411.56" y="257.30" width="11.27" height="5.36" fill="#1838ea"/><rect x="422.54" y="257.30" width="16.76" height="5.36" fill="#1128c0"/><rect x="438.99" y="257.30" width="11.27" height="5.36" fill="#2052f8"/><rect x="449.97" y="257.30" width="16.76" height="5.36" fill="#1838ea"/><rect x="466.42" y="257.30" width="5.79" height="5.36" fill="#2052f8"/><rect x="471.91" y="257.30" width="5.79" height="5.36" fill="#2c7cf8"/><rect x="477.40" y="257.30" width="5.79" height="5.36" fill="#2052f8"/><rect x="482.88" y="257.30" width="16.76" height="5.36" fill="#1838ea"/><rect x="499.34" y="257.30" width="22.24" height="5.36" fill="#1128c0"/><rect x="521.28" y="257.30" width="5.79" height="5.36" fill="#1838ea"/><rect x="526.77" y="257.30" width="5.79" height="5.36" fill="#2052f8"/><rect x="532.26" y="257.30" width="5.79" height="5.36" fill="#2c7cf8"/><rect x="537.74" y="257.30" width="5.79" height="5.36" fill="#34b4f8"/><rect x="543.23" y="257.30" width="14.27" height="5.36" fill="#40f0b0"/><rect x="2.60" y="262.36" width="113.02" height="5.36" fill="#1838ea"/><rect x="115.32" y="262.36" width="5.79" height="5.36" fill="#1128c0"/><rect x="120.81" y="262.36" width="49.67" height="5.36" fill="#1838ea"/><rect x="170.18" y="262.36" width="16.76" height="5.36" fill="#1128c0"/><rect x="186.64" y="262.36" width="5.79" height="5.36" fill="#0b1888"/><rect x="192.12" y="262.36" width="11.27" height="5.36" fill="#08105c"/><rect x="203.10" y="262.36" width="5.79" height="5.36" fill="#1128c0"/><rect x="208.58" y="262.36" width="16.76" height="5.36" fill="#1838ea"/><rect x="225.04" y="262.36" width="5.79" height="5.36" fill="#0b1888"/><rect x="230.53" y="262.36" width="5.79" height="5.36" fill="#08105c"/><rect x="236.01" y="262.36" width="11.27" height="5.36" fill="#050a40"/><rect x="246.98" y="262.36" width="5.79" height="5.36" fill="#08105c"/><rect x="252.47" y="262.36" width="27.73" height="5.36" fill="#0b1888"/><rect x="279.90" y="262.36" width="5.79" height="5.36" fill="#020424"/><rect x="285.39" y="262.36" width="5.79" height="5.36" fill="#050a40"/><rect x="290.87" y="262.36" width="11.27" height="5.36" fill="#1128c0"/><rect x="301.84" y="262.36" width="5.79" height="5.36" fill="#020424"/><rect x="307.33" y="262.36" width="5.79" height="5.36" fill="#000008"/><rect x="312.82" y="262.36" width="22.24" height="5.36" fill="#0b1888"/><rect x="334.76" y="262.36" width="5.79" height="5.36" fill="#2052f8"/><rect x="340.25" y="262.36" width="11.27" height="5.36" fill="#38e438"/><rect x="351.22" y="262.36" width="22.24" height="5.36" fill="#30ecf8"/><rect x="373.16" y="262.36" width="11.27" height="5.36" fill="#38e438"/><rect x="384.13" y="262.36" width="11.27" height="5.36" fill="#1838ea"/><rect x="395.11" y="262.36" width="5.79" height="5.36" fill="#1128c0"/><rect x="400.59" y="262.36" width="5.79" height="5.36" fill="#050a40"/><rect x="406.08" y="262.36" width="5.79" height="5.36" fill="#0b1888"/><rect x="411.56" y="262.36" width="11.27" height="5.36" fill="#1838ea"/><rect x="422.54" y="262.36" width="11.27" height="5.36" fill="#1128c0"/><rect x="433.51" y="262.36" width="33.22" height="5.36" fill="#1838ea"/><rect x="466.42" y="262.36" width="5.79" height="5.36" fill="#2052f8"/><rect x="471.91" y="262.36" width="5.79" height="5.36" fill="#2c7cf8"/><rect x="477.40" y="262.36" width="5.79" height="5.36" fill="#2052f8"/><rect x="482.88" y="262.36" width="16.76" height="5.36" fill="#1838ea"/><rect x="499.34" y="262.36" width="5.79" height="5.36" fill="#0b1888"/><rect x="504.83" y="262.36" width="11.27" height="5.36" fill="#050a40"/><rect x="515.80" y="262.36" width="5.79" height="5.36" fill="#08105c"/><rect x="521.28" y="262.36" width="5.79" height="5.36" fill="#1128c0"/><rect x="526.77" y="262.36" width="5.79" height="5.36" fill="#1838ea"/><rect x="532.26" y="262.36" width="5.79" height="5.36" fill="#2c7cf8"/><rect x="537.74" y="262.36" width="5.79" height="5.36" fill="#2052f8"/><rect x="543.23" y="262.36" width="14.27" height="5.36" fill="#1838ea"/><rect x="2.60" y="267.42" width="14.27" height="5.36" fill="#1838ea"/><rect x="16.57" y="267.42" width="5.79" height="5.36" fill="#2052f8"/><rect x="22.06" y="267.42" width="49.67" height="5.36" fill="#1838ea"/><rect x="71.43" y="267.42" width="33.22" height="5.36" fill="#1128c0"/><rect x="104.35" y="267.42" width="5.79" height="5.36" fill="#0b1888"/><rect x="109.83" y="267.42" width="5.79" height="5.36" fill="#1128c0"/><rect x="115.32" y="267.42" width="5.79" height="5.36" fill="#0b1888"/><rect x="120.81" y="267.42" width="5.79" height="5.36" fill="#1838ea"/><rect x="126.29" y="267.42" width="5.79" height="5.36" fill="#1128c0"/><rect x="131.78" y="267.42" width="38.70" height="5.36" fill="#0b1888"/><rect x="170.18" y="267.42" width="16.76" height="5.36" fill="#1128c0"/><rect x="186.64" y="267.42" width="5.79" height="5.36" fill="#0b1888"/><rect x="192.12" y="267.42" width="11.27" height="5.36" fill="#08105c"/><rect x="203.10" y="267.42" width="5.79" height="5.36" fill="#1128c0"/><rect x="208.58" y="267.42" width="16.76" height="5.36" fill="#1838ea"/><rect x="225.04" y="267.42" width="11.27" height="5.36" fill="#0b1888"/><rect x="236.01" y="267.42" width="16.76" height="5.36" fill="#08105c"/><rect x="252.47" y="267.42" width="27.73" height="5.36" fill="#0b1888"/><rect x="279.90" y="267.42" width="5.79" height="5.36" fill="#050a40"/><rect x="285.39" y="267.42" width="5.79" height="5.36" fill="#08105c"/><rect x="290.87" y="267.42" width="11.27" height="5.36" fill="#1838ea"/><rect x="301.84" y="267.42" width="5.79" height="5.36" fill="#08105c"/><rect x="307.33" y="267.42" width="27.73" height="5.36" fill="#0b1888"/><rect x="334.76" y="267.42" width="5.79" height="5.36" fill="#1128c0"/><rect x="340.25" y="267.42" width="11.27" height="5.36" fill="#38e438"/><rect x="351.22" y="267.42" width="5.79" height="5.36" fill="#f8ee00"/><rect x="356.70" y="267.42" width="5.79" height="5.36" fill="#a8ee28"/><rect x="362.19" y="267.42" width="11.27" height="5.36" fill="#30ecf8"/><rect x="373.16" y="267.42" width="5.79" height="5.36" fill="#f8ee00"/><rect x="378.65" y="267.42" width="5.79" height="5.36" fill="#38e438"/><rect x="384.13" y="267.42" width="11.27" height="5.36" fill="#1838ea"/><rect x="395.11" y="267.42" width="5.79" height="5.36" fill="#1128c0"/><rect x="400.59" y="267.42" width="5.79" height="5.36" fill="#050a40"/><rect x="406.08" y="267.42" width="5.79" height="5.36" fill="#0b1888"/><rect x="411.56" y="267.42" width="11.27" height="5.36" fill="#1838ea"/><rect x="422.54" y="267.42" width="16.76" height="5.36" fill="#0b1888"/><rect x="438.99" y="267.42" width="49.67" height="5.36" fill="#1128c0"/><rect x="488.37" y="267.42" width="16.76" height="5.36" fill="#0b1888"/><rect x="504.83" y="267.42" width="16.76" height="5.36" fill="#08105c"/><rect x="521.28" y="267.42" width="5.79" height="5.36" fill="#0b1888"/><rect x="526.77" y="267.42" width="11.27" height="5.36" fill="#1128c0"/><rect x="537.74" y="267.42" width="5.79" height="5.36" fill="#1838ea"/><rect x="543.23" y="267.42" width="14.27" height="5.36" fill="#2c7cf8"/><rect x="2.60" y="272.48" width="14.27" height="5.36" fill="#1838ea"/><rect x="16.57" y="272.48" width="11.27" height="5.36" fill="#2c7cf8"/><rect x="27.54" y="272.48" width="5.79" height="5.36" fill="#34b4f8"/><rect x="33.03" y="272.48" width="5.79" height="5.36" fill="#1838ea"/><rect x="38.52" y="272.48" width="16.76" height="5.36" fill="#30ecf8"/><rect x="54.97" y="272.48" width="16.76" height="5.36" fill="#1838ea"/><rect x="71.43" y="272.48" width="11.27" height="5.36" fill="#1128c0"/><rect x="82.40" y="272.48" width="11.27" height="5.36" fill="#0b1888"/><rect x="93.38" y="272.48" width="27.73" height="5.36" fill="#1128c0"/><rect x="120.81" y="272.48" width="5.79" height="5.36" fill="#2052f8"/><rect x="126.29" y="272.48" width="5.79" height="5.36" fill="#1838ea"/><rect x="131.78" y="272.48" width="55.16" height="5.36" fill="#1128c0"/><rect x="186.64" y="272.48" width="16.76" height="5.36" fill="#0b1888"/><rect x="203.10" y="272.48" width="22.24" height="5.36" fill="#1128c0"/><rect x="225.04" y="272.48" width="5.79" height="5.36" fill="#0b1888"/><rect x="230.53" y="272.48" width="5.79" height="5.36" fill="#08105c"/><rect x="236.01" y="272.48" width="16.76" height="5.36" fill="#0b1888"/><rect x="252.47" y="272.48" width="5.79" height="5.36" fill="#08105c"/><rect x="257.96" y="272.48" width="5.79" height="5.36" fill="#0b1888"/><rect x="263.44" y="272.48" width="5.79" height="5.36" fill="#08105c"/><rect x="268.93" y="272.48" width="11.27" height="5.36" fill="#0b1888"/><rect x="279.90" y="272.48" width="5.79" height="5.36" fill="#050a40"/><rect x="285.39" y="272.48" width="5.79" height="5.36" fill="#08105c"/><rect x="290.87" y="272.48" width="11.27" height="5.36" fill="#1128c0"/><rect x="301.84" y="272.48" width="33.22" height="5.36" fill="#0b1888"/><rect x="334.76" y="272.48" width="5.79" height="5.36" fill="#1128c0"/><rect x="340.25" y="272.48" width="11.27" height="5.36" fill="#f8a000"/><rect x="351.22" y="272.48" width="5.79" height="5.36" fill="#f8ee00"/><rect x="356.70" y="272.48" width="5.79" height="5.36" fill="#40f0b0"/><rect x="362.19" y="272.48" width="5.79" height="5.36" fill="#30ecf8"/><rect x="367.68" y="272.48" width="5.79" height="5.36" fill="#40f0b0"/><rect x="373.16" y="272.48" width="5.79" height="5.36" fill="#f8a000"/><rect x="378.65" y="272.48" width="5.79" height="5.36" fill="#a8ee28"/><rect x="384.13" y="272.48" width="11.27" height="5.36" fill="#1838ea"/><rect x="395.11" y="272.48" width="5.79" height="5.36" fill="#1128c0"/><rect x="400.59" y="272.48" width="5.79" height="5.36" fill="#08105c"/><rect x="406.08" y="272.48" width="5.79" height="5.36" fill="#0b1888"/><rect x="411.56" y="272.48" width="55.16" height="5.36" fill="#1128c0"/><rect x="466.42" y="272.48" width="5.79" height="5.36" fill="#2c7cf8"/><rect x="471.91" y="272.48" width="5.79" height="5.36" fill="#34b4f8"/><rect x="477.40" y="272.48" width="5.79" height="5.36" fill="#2c7cf8"/><rect x="482.88" y="272.48" width="22.24" height="5.36" fill="#1128c0"/><rect x="504.83" y="272.48" width="22.24" height="5.36" fill="#0b1888"/><rect x="526.77" y="272.48" width="5.79" height="5.36" fill="#1838ea"/><rect x="532.26" y="272.48" width="5.79" height="5.36" fill="#34b4f8"/><rect x="537.74" y="272.48" width="5.79" height="5.36" fill="#2052f8"/><rect x="543.23" y="272.48" width="14.27" height="5.36" fill="#1838ea"/><rect x="2.60" y="277.53" width="30.73" height="5.36" fill="#08105c"/><rect x="33.03" y="277.53" width="60.65" height="5.36" fill="#050a40"/><rect x="93.38" y="277.53" width="11.27" height="5.36" fill="#020424"/><rect x="104.35" y="277.53" width="11.27" height="5.36" fill="#050a40"/><rect x="115.32" y="277.53" width="5.79" height="5.36" fill="#08105c"/><rect x="120.81" y="277.53" width="5.79" height="5.36" fill="#0b1888"/><rect x="126.29" y="277.53" width="5.79" height="5.36" fill="#1128c0"/><rect x="131.78" y="277.53" width="22.24" height="5.36" fill="#1838ea"/><rect x="153.72" y="277.53" width="22.24" height="5.36" fill="#1128c0"/><rect x="175.67" y="277.53" width="38.70" height="5.36" fill="#08105c"/><rect x="214.07" y="277.53" width="22.24" height="5.36" fill="#020424"/><rect x="236.01" y="277.53" width="27.73" height="5.36" fill="#050a40"/><rect x="263.44" y="277.53" width="38.70" height="5.36" fill="#08105c"/><rect x="301.84" y="277.53" width="11.27" height="5.36" fill="#020424"/><rect x="312.82" y="277.53" width="22.24" height="5.36" fill="#08105c"/><rect x="334.76" y="277.53" width="5.79" height="5.36" fill="#0b1888"/><rect x="340.25" y="277.53" width="5.79" height="5.36" fill="#1128c0"/><rect x="345.73" y="277.53" width="5.79" height="5.36" fill="#1838ea"/><rect x="351.22" y="277.53" width="5.79" height="5.36" fill="#f84018"/><rect x="356.70" y="277.53" width="5.79" height="5.36" fill="#f8a000"/><rect x="362.19" y="277.53" width="11.27" height="5.36" fill="#f8ee00"/><rect x="373.16" y="277.53" width="5.79" height="5.36" fill="#1128c0"/><rect x="378.65" y="277.53" width="5.79" height="5.36" fill="#0b1888"/><rect x="384.13" y="277.53" width="5.79" height="5.36" fill="#08105c"/><rect x="389.62" y="277.53" width="5.79" height="5.36" fill="#1838ea"/><rect x="395.11" y="277.53" width="71.62" height="5.36" fill="#08105c"/><rect x="466.42" y="277.53" width="33.22" height="5.36" fill="#0b1888"/><rect x="499.34" y="277.53" width="27.73" height="5.36" fill="#050a40"/><rect x="526.77" y="277.53" width="16.76" height="5.36" fill="#0b1888"/><rect x="543.23" y="277.53" width="14.27" height="5.36" fill="#050a40"/><rect x="2.60" y="282.59" width="14.27" height="5.36" fill="#08105c"/><rect x="16.57" y="282.59" width="16.76" height="5.36" fill="#0b1888"/><rect x="33.03" y="282.59" width="11.27" height="5.36" fill="#020424"/><rect x="44.00" y="282.59" width="49.67" height="5.36" fill="#050a40"/><rect x="93.38" y="282.59" width="11.27" height="5.36" fill="#08105c"/><rect x="104.35" y="282.59" width="16.76" height="5.36" fill="#050a40"/><rect x="120.81" y="282.59" width="5.79" height="5.36" fill="#000008"/><rect x="126.29" y="282.59" width="5.79" height="5.36" fill="#020424"/><rect x="131.78" y="282.59" width="93.56" height="5.36" fill="#050a40"/><rect x="225.04" y="282.59" width="11.27" height="5.36" fill="#08105c"/><rect x="236.01" y="282.59" width="44.19" height="5.36" fill="#050a40"/><rect x="279.90" y="282.59" width="5.79" height="5.36" fill="#020424"/><rect x="285.39" y="282.59" width="5.79" height="5.36" fill="#08105c"/><rect x="290.87" y="282.59" width="11.27" height="5.36" fill="#1128c0"/><rect x="301.84" y="282.59" width="5.79" height="5.36" fill="#08105c"/><rect x="307.33" y="282.59" width="16.76" height="5.36" fill="#050a40"/><rect x="323.79" y="282.59" width="5.79" height="5.36" fill="#08105c"/><rect x="329.27" y="282.59" width="5.79" height="5.36" fill="#0b1888"/><rect x="334.76" y="282.59" width="5.79" height="5.36" fill="#08105c"/><rect x="340.25" y="282.59" width="11.27" height="5.36" fill="#1838ea"/><rect x="351.22" y="282.59" width="5.79" height="5.36" fill="#f8a898"/><rect x="356.70" y="282.59" width="5.79" height="5.36" fill="#f8a000"/><rect x="362.19" y="282.59" width="5.79" height="5.36" fill="#f84018"/><rect x="367.68" y="282.59" width="5.79" height="5.36" fill="#f8ee00"/><rect x="373.16" y="282.59" width="11.27" height="5.36" fill="#1128c0"/><rect x="384.13" y="282.59" width="5.79" height="5.36" fill="#0b1888"/><rect x="389.62" y="282.59" width="22.24" height="5.36" fill="#050a40"/><rect x="411.56" y="282.59" width="33.22" height="5.36" fill="#020424"/><rect x="444.48" y="282.59" width="16.76" height="5.36" fill="#050a40"/><rect x="460.94" y="282.59" width="5.79" height="5.36" fill="#020424"/><rect x="466.42" y="282.59" width="60.65" height="5.36" fill="#050a40"/><rect x="526.77" y="282.59" width="30.73" height="5.36" fill="#08105c"/><rect x="2.60" y="287.65" width="30.73" height="5.36" fill="#08105c"/><rect x="33.03" y="287.65" width="11.27" height="5.36" fill="#000008"/><rect x="44.00" y="287.65" width="49.67" height="5.36" fill="#050a40"/><rect x="93.38" y="287.65" width="16.76" height="5.36" fill="#000008"/><rect x="109.83" y="287.65" width="5.79" height="5.36" fill="#050a40"/><rect x="115.32" y="287.65" width="11.27" height="5.36" fill="#08105c"/><rect x="126.29" y="287.65" width="27.73" height="5.36" fill="#0b1888"/><rect x="153.72" y="287.65" width="16.76" height="5.36" fill="#020424"/><rect x="170.18" y="287.65" width="11.27" height="5.36" fill="#08105c"/><rect x="181.15" y="287.65" width="22.24" height="5.36" fill="#050a40"/><rect x="203.10" y="287.65" width="5.79" height="5.36" fill="#000008"/><rect x="208.58" y="287.65" width="5.79" height="5.36" fill="#020424"/><rect x="214.07" y="287.65" width="11.27" height="5.36" fill="#050a40"/><rect x="225.04" y="287.65" width="11.27" height="5.36" fill="#08105c"/><rect x="236.01" y="287.65" width="11.27" height="5.36" fill="#050a40"/><rect x="246.98" y="287.65" width="22.24" height="5.36" fill="#020424"/><rect x="268.93" y="287.65" width="11.27" height="5.36" fill="#050a40"/><rect x="279.90" y="287.65" width="5.79" height="5.36" fill="#020424"/><rect x="285.39" y="287.65" width="5.79" height="5.36" fill="#08105c"/><rect x="290.87" y="287.65" width="11.27" height="5.36" fill="#1128c0"/><rect x="301.84" y="287.65" width="16.76" height="5.36" fill="#050a40"/><rect x="318.30" y="287.65" width="16.76" height="5.36" fill="#08105c"/><rect x="334.76" y="287.65" width="5.79" height="5.36" fill="#050a40"/><rect x="340.25" y="287.65" width="5.79" height="5.36" fill="#1838ea"/><rect x="345.73" y="287.65" width="5.79" height="5.36" fill="#30ecf8"/><rect x="351.22" y="287.65" width="11.27" height="5.36" fill="#fff6f2"/><rect x="362.19" y="287.65" width="5.79" height="5.36" fill="#f8a000"/><rect x="367.68" y="287.65" width="5.79" height="5.36" fill="#f8ee00"/><rect x="373.16" y="287.65" width="11.27" height="5.36" fill="#1128c0"/><rect x="384.13" y="287.65" width="11.27" height="5.36" fill="#0b1888"/><rect x="395.11" y="287.65" width="16.76" height="5.36" fill="#050a40"/><rect x="411.56" y="287.65" width="33.22" height="5.36" fill="#020424"/><rect x="444.48" y="287.65" width="16.76" height="5.36" fill="#050a40"/><rect x="460.94" y="287.65" width="22.24" height="5.36" fill="#08105c"/><rect x="482.88" y="287.65" width="44.19" height="5.36" fill="#050a40"/><rect x="526.77" y="287.65" width="30.73" height="5.36" fill="#1128c0"/><rect x="2.60" y="292.71" width="30.73" height="5.36" fill="#08105c"/><rect x="33.03" y="292.71" width="60.65" height="5.36" fill="#050a40"/><rect x="93.38" y="292.71" width="16.76" height="5.36" fill="#020424"/><rect x="109.83" y="292.71" width="44.19" height="5.36" fill="#08105c"/><rect x="153.72" y="292.71" width="16.76" height="5.36" fill="#020424"/><rect x="170.18" y="292.71" width="33.22" height="5.36" fill="#050a40"/><rect x="203.10" y="292.71" width="5.79" height="5.36" fill="#000008"/><rect x="208.58" y="292.71" width="33.22" height="5.36" fill="#020424"/><rect x="241.50" y="292.71" width="44.19" height="5.36" fill="#050a40"/><rect x="285.39" y="292.71" width="5.79" height="5.36" fill="#08105c"/><rect x="290.87" y="292.71" width="11.27" height="5.36" fill="#1128c0"/><rect x="301.84" y="292.71" width="38.70" height="5.36" fill="#050a40"/><rect x="340.25" y="292.71" width="5.79" height="5.36" fill="#1838ea"/><rect x="345.73" y="292.71" width="5.79" height="5.36" fill="#2052f8"/><rect x="351.22" y="292.71" width="5.79" height="5.36" fill="#f84018"/><rect x="356.70" y="292.71" width="5.79" height="5.36" fill="#f8a898"/><rect x="362.19" y="292.71" width="5.79" height="5.36" fill="#f8a000"/><rect x="367.68" y="292.71" width="5.79" height="5.36" fill="#f8ee00"/><rect x="373.16" y="292.71" width="11.27" height="5.36" fill="#1128c0"/><rect x="384.13" y="292.71" width="5.79" height="5.36" fill="#0b1888"/><rect x="389.62" y="292.71" width="22.24" height="5.36" fill="#050a40"/><rect x="411.56" y="292.71" width="22.24" height="5.36" fill="#020424"/><rect x="433.51" y="292.71" width="22.24" height="5.36" fill="#000008"/><rect x="455.45" y="292.71" width="22.24" height="5.36" fill="#050a40"/><rect x="477.40" y="292.71" width="11.27" height="5.36" fill="#000008"/><rect x="488.37" y="292.71" width="11.27" height="5.36" fill="#050a40"/><rect x="499.34" y="292.71" width="22.24" height="5.36" fill="#000008"/><rect x="521.28" y="292.71" width="22.24" height="5.36" fill="#050a40"/><rect x="543.23" y="292.71" width="14.27" height="5.36" fill="#020424"/><rect x="2.60" y="297.77" width="8.79" height="5.36" fill="#08105c"/><rect x="11.09" y="297.77" width="22.24" height="5.36" fill="#1128c0"/><rect x="33.03" y="297.77" width="22.24" height="5.36" fill="#050a40"/><rect x="54.97" y="297.77" width="27.73" height="5.36" fill="#0b1888"/><rect x="82.40" y="297.77" width="33.22" height="5.36" fill="#08105c"/><rect x="115.32" y="297.77" width="5.79" height="5.36" fill="#0b1888"/><rect x="120.81" y="297.77" width="33.22" height="5.36" fill="#1838ea"/><rect x="153.72" y="297.77" width="16.76" height="5.36" fill="#050a40"/><rect x="170.18" y="297.77" width="66.13" height="5.36" fill="#08105c"/><rect x="236.01" y="297.77" width="44.19" height="5.36" fill="#050a40"/><rect x="279.90" y="297.77" width="11.27" height="5.36" fill="#08105c"/><rect x="290.87" y="297.77" width="11.27" height="5.36" fill="#1128c0"/><rect x="301.84" y="297.77" width="22.24" height="5.36" fill="#08105c"/><rect x="323.79" y="297.77" width="16.76" height="5.36" fill="#0b1888"/><rect x="340.25" y="297.77" width="11.27" height="5.36" fill="#30ecf8"/><rect x="351.22" y="297.77" width="5.79" height="5.36" fill="#f84018"/><rect x="356.70" y="297.77" width="5.79" height="5.36" fill="#f8a898"/><rect x="362.19" y="297.77" width="5.79" height="5.36" fill="#f84018"/><rect x="367.68" y="297.77" width="5.79" height="5.36" fill="#f8ee00"/><rect x="373.16" y="297.77" width="16.76" height="5.36" fill="#1128c0"/><rect x="389.62" y="297.77" width="22.24" height="5.36" fill="#0b1888"/><rect x="411.56" y="297.77" width="49.67" height="5.36" fill="#1128c0"/><rect x="460.94" y="297.77" width="16.76" height="5.36" fill="#1838ea"/><rect x="477.40" y="297.77" width="44.19" height="5.36" fill="#1128c0"/><rect x="521.28" y="297.77" width="11.27" height="5.36" fill="#1838ea"/><rect x="532.26" y="297.77" width="11.27" height="5.36" fill="#2052f8"/><rect x="543.23" y="297.77" width="14.27" height="5.36" fill="#1838ea"/><rect x="2.60" y="302.82" width="30.73" height="5.36" fill="#08105c"/><rect x="33.03" y="302.82" width="22.24" height="5.36" fill="#050a40"/><rect x="54.97" y="302.82" width="27.73" height="5.36" fill="#0b1888"/><rect x="82.40" y="302.82" width="16.76" height="5.36" fill="#08105c"/><rect x="98.86" y="302.82" width="16.76" height="5.36" fill="#050a40"/><rect x="115.32" y="302.82" width="5.79" height="5.36" fill="#0b1888"/><rect x="120.81" y="302.82" width="33.22" height="5.36" fill="#1838ea"/><rect x="153.72" y="302.82" width="16.76" height="5.36" fill="#050a40"/><rect x="170.18" y="302.82" width="66.13" height="5.36" fill="#08105c"/><rect x="236.01" y="302.82" width="38.70" height="5.36" fill="#050a40"/><rect x="274.41" y="302.82" width="11.27" height="5.36" fill="#08105c"/><rect x="285.39" y="302.82" width="5.79" height="5.36" fill="#0b1888"/><rect x="290.87" y="302.82" width="11.27" height="5.36" fill="#1838ea"/><rect x="301.84" y="302.82" width="22.24" height="5.36" fill="#0b1888"/><rect x="323.79" y="302.82" width="11.27" height="5.36" fill="#1128c0"/><rect x="334.76" y="302.82" width="5.79" height="5.36" fill="#0b1888"/><rect x="340.25" y="302.82" width="11.27" height="5.36" fill="#2c7cf8"/><rect x="351.22" y="302.82" width="11.27" height="5.36" fill="#f8a898"/><rect x="362.19" y="302.82" width="5.79" height="5.36" fill="#f8a000"/><rect x="367.68" y="302.82" width="5.79" height="5.36" fill="#f8ee00"/><rect x="373.16" y="302.82" width="16.76" height="5.36" fill="#1128c0"/><rect x="389.62" y="302.82" width="22.24" height="5.36" fill="#0b1888"/><rect x="411.56" y="302.82" width="38.70" height="5.36" fill="#1128c0"/><rect x="449.97" y="302.82" width="11.27" height="5.36" fill="#08105c"/><rect x="460.94" y="302.82" width="38.70" height="5.36" fill="#1128c0"/><rect x="499.34" y="302.82" width="27.73" height="5.36" fill="#0b1888"/><rect x="526.77" y="302.82" width="5.79" height="5.36" fill="#1838ea"/><rect x="532.26" y="302.82" width="11.27" height="5.36" fill="#2052f8"/><rect x="543.23" y="302.82" width="14.27" height="5.36" fill="#1838ea"/><rect x="2.60" y="307.88" width="14.27" height="5.36" fill="#08105c"/><rect x="16.57" y="307.88" width="5.79" height="5.36" fill="#0b1888"/><rect x="22.06" y="307.88" width="11.27" height="5.36" fill="#08105c"/><rect x="33.03" y="307.88" width="27.73" height="5.36" fill="#050a40"/><rect x="60.46" y="307.88" width="55.16" height="5.36" fill="#08105c"/><rect x="115.32" y="307.88" width="5.79" height="5.36" fill="#0b1888"/><rect x="120.81" y="307.88" width="33.22" height="5.36" fill="#1838ea"/><rect x="153.72" y="307.88" width="82.59" height="5.36" fill="#08105c"/><rect x="236.01" y="307.88" width="11.27" height="5.36" fill="#050a40"/><rect x="246.98" y="307.88" width="11.27" height="5.36" fill="#020424"/><rect x="257.96" y="307.88" width="27.73" height="5.36" fill="#050a40"/><rect x="285.39" y="307.88" width="5.79" height="5.36" fill="#08105c"/><rect x="290.87" y="307.88" width="11.27" height="5.36" fill="#1128c0"/><rect x="301.84" y="307.88" width="33.22" height="5.36" fill="#08105c"/><rect x="334.76" y="307.88" width="5.79" height="5.36" fill="#0b1888"/><rect x="340.25" y="307.88" width="5.79" height="5.36" fill="#2c7cf8"/><rect x="345.73" y="307.88" width="5.79" height="5.36" fill="#30ecf8"/><rect x="351.22" y="307.88" width="5.79" height="5.36" fill="#f8a898"/><rect x="356.70" y="307.88" width="5.79" height="5.36" fill="#fff6f2"/><rect x="362.19" y="307.88" width="5.79" height="5.36" fill="#f8a000"/><rect x="367.68" y="307.88" width="5.79" height="5.36" fill="#f8ee00"/><rect x="373.16" y="307.88" width="16.76" height="5.36" fill="#1128c0"/><rect x="389.62" y="307.88" width="22.24" height="5.36" fill="#0b1888"/><rect x="411.56" y="307.88" width="11.27" height="5.36" fill="#1838ea"/><rect x="422.54" y="307.88" width="22.24" height="5.36" fill="#1128c0"/><rect x="444.48" y="307.88" width="16.76" height="5.36" fill="#0b1888"/><rect x="460.94" y="307.88" width="16.76" height="5.36" fill="#08105c"/><rect x="477.40" y="307.88" width="49.67" height="5.36" fill="#0b1888"/><rect x="526.77" y="307.88" width="16.76" height="5.36" fill="#1838ea"/><rect x="543.23" y="307.88" width="14.27" height="5.36" fill="#1128c0"/><rect x="2.60" y="312.94" width="8.79" height="8.36" fill="#08105c"/><rect x="11.09" y="312.94" width="5.79" height="8.36" fill="#0b1888"/><rect x="16.57" y="312.94" width="5.79" height="8.36" fill="#1128c0"/><rect x="22.06" y="312.94" width="38.70" height="8.36" fill="#08105c"/><rect x="60.46" y="312.94" width="11.27" height="8.36" fill="#020424"/><rect x="71.43" y="312.94" width="44.19" height="8.36" fill="#08105c"/><rect x="115.32" y="312.94" width="5.79" height="8.36" fill="#0b1888"/><rect x="120.81" y="312.94" width="11.27" height="8.36" fill="#1128c0"/><rect x="131.78" y="312.94" width="22.24" height="8.36" fill="#1838ea"/><rect x="153.72" y="312.94" width="82.59" height="8.36" fill="#08105c"/><rect x="236.01" y="312.94" width="33.22" height="8.36" fill="#050a40"/><rect x="268.93" y="312.94" width="11.27" height="8.36" fill="#08105c"/><rect x="279.90" y="312.94" width="5.79" height="8.36" fill="#050a40"/><rect x="285.39" y="312.94" width="5.79" height="8.36" fill="#08105c"/><rect x="290.87" y="312.94" width="11.27" height="8.36" fill="#1128c0"/><rect x="301.84" y="312.94" width="16.76" height="8.36" fill="#050a40"/><rect x="318.30" y="312.94" width="16.76" height="8.36" fill="#08105c"/><rect x="334.76" y="312.94" width="5.79" height="8.36" fill="#0b1888"/><rect x="340.25" y="312.94" width="11.27" height="8.36" fill="#2c7cf8"/><rect x="351.22" y="312.94" width="11.27" height="8.36" fill="#fff6f2"/><rect x="362.19" y="312.94" width="11.27" height="8.36" fill="#f84018"/><rect x="373.16" y="312.94" width="16.76" height="8.36" fill="#1128c0"/><rect x="389.62" y="312.94" width="22.24" height="8.36" fill="#0b1888"/><rect x="411.56" y="312.94" width="22.24" height="8.36" fill="#1128c0"/><rect x="433.51" y="312.94" width="11.27" height="8.36" fill="#0b1888"/><rect x="444.48" y="312.94" width="5.79" height="8.36" fill="#1128c0"/><rect x="449.97" y="312.94" width="11.27" height="8.36" fill="#08105c"/><rect x="460.94" y="312.94" width="16.76" height="8.36" fill="#1838ea"/><rect x="477.40" y="312.94" width="22.24" height="8.36" fill="#1128c0"/><rect x="499.34" y="312.94" width="27.73" height="8.36" fill="#0b1888"/><rect x="526.77" y="312.94" width="16.76" height="8.36" fill="#1838ea"/><rect x="543.23" y="312.94" width="14.27" height="8.36" fill="#1128c0"/><rect x="345.70" y="196.60" width="6.40" height="5.36" fill="#0b1888"/><rect x="351.80" y="196.60" width="10.20" height="5.36" fill="#38e438"/><rect x="361.70" y="196.60" width="10.00" height="5.36" fill="#30ecf8"/><rect x="371.40" y="196.60" width="7.50" height="5.36" fill="#050a40"/><rect x="345.70" y="201.66" width="6.40" height="5.36" fill="#1128c0"/><rect x="351.80" y="201.66" width="10.20" height="5.36" fill="#30ecf8"/><rect x="361.70" y="201.66" width="10.00" height="5.36" fill="#2c7cf8"/><rect x="371.40" y="201.66" width="7.50" height="5.36" fill="#020424"/><rect x="345.70" y="206.72" width="6.40" height="5.36" fill="#1128c0"/><rect x="351.80" y="206.72" width="10.20" height="5.36" fill="#38e438"/><rect x="361.70" y="206.72" width="10.00" height="5.36" fill="#40f0b0"/><rect x="371.40" y="206.72" width="7.50" height="5.36" fill="#050a40"/><rect x="345.70" y="211.78" width="6.40" height="5.36" fill="#1128c0"/><rect x="351.80" y="211.78" width="10.20" height="5.36" fill="#38e438"/><rect x="361.70" y="211.78" width="10.00" height="5.36" fill="#2c7cf8"/><rect x="371.40" y="211.78" width="7.50" height="5.36" fill="#020424"/><rect x="345.70" y="216.83" width="6.40" height="5.36" fill="#050a40"/><rect x="351.80" y="216.83" width="10.20" height="5.36" fill="#2c7cf8"/><rect x="361.70" y="216.83" width="10.00" height="5.36" fill="#2052f8"/><rect x="371.40" y="216.83" width="7.50" height="5.36" fill="#020424"/><rect x="345.70" y="221.89" width="6.40" height="5.36" fill="#08105c"/><rect x="351.80" y="221.89" width="10.20" height="5.36" fill="#30ecf8"/><rect x="361.70" y="221.89" width="10.00" height="5.36" fill="#34b4f8"/><rect x="371.40" y="221.89" width="7.50" height="5.36" fill="#020424"/><rect x="345.70" y="226.95" width="6.40" height="5.36" fill="#1128c0"/><rect x="351.80" y="226.95" width="10.20" height="5.36" fill="#30ecf8"/><rect x="361.70" y="226.95" width="10.00" height="5.36" fill="#34b4f8"/><rect x="371.40" y="226.95" width="7.50" height="5.36" fill="#050a40"/><rect x="345.70" y="232.01" width="6.40" height="5.36" fill="#1128c0"/><rect x="351.80" y="232.01" width="10.20" height="5.36" fill="#30ecf8"/><rect x="361.70" y="232.01" width="10.00" height="5.36" fill="#30ecf8"/><rect x="371.40" y="232.01" width="7.50" height="5.36" fill="#050a40"/><rect x="334.80" y="237.07" width="3.80" height="5.36" fill="#1838ea"/><rect x="338.30" y="237.07" width="4.10" height="5.36" fill="#2c7cf8"/><rect x="342.10" y="237.07" width="10.20" height="5.36" fill="#a8ee28"/><rect x="352.00" y="237.07" width="4.60" height="5.36" fill="#30ecf8"/><rect x="356.30" y="237.07" width="5.50" height="5.36" fill="#30ecf8"/><rect x="361.50" y="237.07" width="5.00" height="5.36" fill="#30ecf8"/><rect x="366.20" y="237.07" width="6.00" height="5.36" fill="#30ecf8"/><rect x="371.90" y="237.07" width="4.90" height="5.36" fill="#38e438"/><rect x="376.50" y="237.07" width="10.30" height="5.36" fill="#38e438"/><rect x="386.50" y="237.07" width="3.40" height="5.36" fill="#2c7cf8"/><rect x="334.80" y="242.12" width="3.80" height="5.36" fill="#1838ea"/><rect x="338.30" y="242.12" width="4.10" height="5.36" fill="#30ecf8"/><rect x="342.10" y="242.12" width="10.20" height="5.36" fill="#30ecf8"/><rect x="352.00" y="242.12" width="4.60" height="5.36" fill="#30ecf8"/><rect x="356.30" y="242.12" width="5.50" height="5.36" fill="#1838ea"/><rect x="361.50" y="242.12" width="5.00" height="5.36" fill="#2c7cf8"/><rect x="366.20" y="242.12" width="6.00" height="5.36" fill="#1838ea"/><rect x="371.90" y="242.12" width="4.90" height="5.36" fill="#38e438"/><rect x="376.50" y="242.12" width="10.30" height="5.36" fill="#38e438"/><rect x="386.50" y="242.12" width="3.40" height="5.36" fill="#2052f8"/><rect x="334.80" y="247.18" width="3.80" height="5.36" fill="#1838ea"/><rect x="338.30" y="247.18" width="4.10" height="5.36" fill="#30ecf8"/><rect x="342.10" y="247.18" width="10.20" height="5.36" fill="#30ecf8"/><rect x="352.00" y="247.18" width="4.60" height="5.36" fill="#30ecf8"/><rect x="356.30" y="247.18" width="5.50" height="5.36" fill="#1838ea"/><rect x="361.50" y="247.18" width="5.00" height="5.36" fill="#2c7cf8"/><rect x="366.20" y="247.18" width="6.00" height="5.36" fill="#1838ea"/><rect x="371.90" y="247.18" width="4.90" height="5.36" fill="#40f0b0"/><rect x="376.50" y="247.18" width="10.30" height="5.36" fill="#40f0b0"/><rect x="386.50" y="247.18" width="3.40" height="5.36" fill="#2052f8"/><rect x="334.80" y="252.24" width="3.80" height="5.36" fill="#1838ea"/><rect x="338.30" y="252.24" width="4.10" height="5.36" fill="#30ecf8"/><rect x="342.10" y="252.24" width="10.20" height="5.36" fill="#30ecf8"/><rect x="352.00" y="252.24" width="4.60" height="5.36" fill="#30ecf8"/><rect x="356.30" y="252.24" width="5.50" height="5.36" fill="#30ecf8"/><rect x="361.50" y="252.24" width="5.00" height="5.36" fill="#30ecf8"/><rect x="366.20" y="252.24" width="6.00" height="5.36" fill="#30ecf8"/><rect x="371.90" y="252.24" width="4.90" height="5.36" fill="#30ecf8"/><rect x="376.50" y="252.24" width="10.30" height="5.36" fill="#30ecf8"/><rect x="386.50" y="252.24" width="3.40" height="5.36" fill="#2c7cf8"/><rect x="334.80" y="257.30" width="3.80" height="5.36" fill="#1838ea"/><rect x="338.30" y="257.30" width="4.10" height="5.36" fill="#30ecf8"/><rect x="342.10" y="257.30" width="10.20" height="5.36" fill="#a8ee28"/><rect x="352.00" y="257.30" width="4.60" height="5.36" fill="#30ecf8"/><rect x="356.30" y="257.30" width="5.50" height="5.36" fill="#2c7cf8"/><rect x="361.50" y="257.30" width="5.00" height="5.36" fill="#30ecf8"/><rect x="366.20" y="257.30" width="6.00" height="5.36" fill="#30ecf8"/><rect x="371.90" y="257.30" width="4.90" height="5.36" fill="#a8ee28"/><rect x="376.50" y="257.30" width="10.30" height="5.36" fill="#38e438"/><rect x="386.50" y="257.30" width="3.40" height="5.36" fill="#2c7cf8"/><rect x="334.80" y="262.36" width="3.80" height="5.36" fill="#0b1888"/><rect x="338.30" y="262.36" width="4.10" height="5.36" fill="#2c7cf8"/><rect x="342.10" y="262.36" width="10.20" height="5.36" fill="#38e438"/><rect x="352.00" y="262.36" width="4.60" height="5.36" fill="#30ecf8"/><rect x="356.30" y="262.36" width="5.50" height="5.36" fill="#30ecf8"/><rect x="361.50" y="262.36" width="5.00" height="5.36" fill="#30ecf8"/><rect x="366.20" y="262.36" width="6.00" height="5.36" fill="#30ecf8"/><rect x="371.90" y="262.36" width="4.90" height="5.36" fill="#a8ee28"/><rect x="376.50" y="262.36" width="10.30" height="5.36" fill="#38e438"/><rect x="386.50" y="262.36" width="3.40" height="5.36" fill="#2052f8"/><rect x="334.80" y="267.42" width="3.80" height="5.36" fill="#08105c"/><rect x="338.30" y="267.42" width="4.10" height="5.36" fill="#1838ea"/><rect x="342.10" y="267.42" width="10.20" height="5.36" fill="#38e438"/><rect x="352.00" y="267.42" width="4.60" height="5.36" fill="#f8ee00"/><rect x="356.30" y="267.42" width="5.50" height="5.36" fill="#a8ee28"/><rect x="361.50" y="267.42" width="5.00" height="5.36" fill="#30ecf8"/><rect x="366.20" y="267.42" width="6.00" height="5.36" fill="#30ecf8"/><rect x="371.90" y="267.42" width="4.90" height="5.36" fill="#f8ee00"/><rect x="376.50" y="267.42" width="10.30" height="5.36" fill="#38e438"/><rect x="386.50" y="267.42" width="3.40" height="5.36" fill="#2052f8"/><rect x="334.80" y="272.48" width="3.80" height="5.36" fill="#0b1888"/><rect x="338.30" y="272.48" width="4.10" height="5.36" fill="#1838ea"/><rect x="342.10" y="272.48" width="10.20" height="5.36" fill="#f8a000"/><rect x="352.00" y="272.48" width="4.60" height="5.36" fill="#f8ee00"/><rect x="356.30" y="272.48" width="5.50" height="5.36" fill="#40f0b0"/><rect x="361.50" y="272.48" width="5.00" height="5.36" fill="#30ecf8"/><rect x="366.20" y="272.48" width="6.00" height="5.36" fill="#40f0b0"/><rect x="371.90" y="272.48" width="4.90" height="5.36" fill="#f8a000"/><rect x="376.50" y="272.48" width="10.30" height="5.36" fill="#a8ee28"/><rect x="386.50" y="272.48" width="3.40" height="5.36" fill="#2c7cf8"/><rect x="334.80" y="277.53" width="5.50" height="5.36" fill="#0b1888"/><rect x="340.00" y="277.53" width="6.00" height="5.36" fill="#1128c0"/><rect x="345.70" y="277.53" width="4.40" height="5.36" fill="#1838ea"/><rect x="349.80" y="277.53" width="2.80" height="5.36" fill="#a8ee28"/><rect x="352.30" y="277.53" width="6.00" height="5.36" fill="#f84018"/><rect x="358.00" y="277.53" width="2.80" height="5.36" fill="#f84018"/><rect x="360.50" y="277.53" width="5.10" height="5.36" fill="#f8d000"/><rect x="365.30" y="277.53" width="6.10" height="5.36" fill="#f8ee00"/><rect x="371.10" y="277.53" width="7.80" height="5.36" fill="#08105c"/><rect x="334.80" y="282.59" width="5.50" height="5.36" fill="#08105c"/><rect x="340.00" y="282.59" width="6.00" height="5.36" fill="#1838ea"/><rect x="345.70" y="282.59" width="4.40" height="5.36" fill="#1838ea"/><rect x="349.80" y="282.59" width="2.80" height="5.36" fill="#38e438"/><rect x="352.30" y="282.59" width="6.00" height="5.36" fill="#f8a898"/><rect x="358.00" y="282.59" width="2.80" height="5.36" fill="#fff6f2"/><rect x="360.50" y="282.59" width="5.10" height="5.36" fill="#f84018"/><rect x="365.30" y="282.59" width="6.10" height="5.36" fill="#f8ee00"/><rect x="371.10" y="282.59" width="7.80" height="5.36" fill="#1128c0"/><rect x="334.80" y="287.65" width="5.50" height="5.36" fill="#050a40"/><rect x="340.00" y="287.65" width="6.00" height="5.36" fill="#1838ea"/><rect x="345.70" y="287.65" width="4.40" height="5.36" fill="#30ecf8"/><rect x="349.80" y="287.65" width="2.80" height="5.36" fill="#38e438"/><rect x="352.30" y="287.65" width="6.00" height="5.36" fill="#fff6f2"/><rect x="358.00" y="287.65" width="2.80" height="5.36" fill="#fff6f2"/><rect x="360.50" y="287.65" width="5.10" height="5.36" fill="#f8a000"/><rect x="365.30" y="287.65" width="6.10" height="5.36" fill="#f8ee00"/><rect x="371.10" y="287.65" width="7.80" height="5.36" fill="#1128c0"/><rect x="334.80" y="292.71" width="5.50" height="5.36" fill="#050a40"/><rect x="340.00" y="292.71" width="6.00" height="5.36" fill="#1838ea"/><rect x="345.70" y="292.71" width="4.40" height="5.36" fill="#2052f8"/><rect x="349.80" y="292.71" width="2.80" height="5.36" fill="#30ecf8"/><rect x="352.30" y="292.71" width="6.00" height="5.36" fill="#f87058"/><rect x="358.00" y="292.71" width="2.80" height="5.36" fill="#fff6f2"/><rect x="360.50" y="292.71" width="5.10" height="5.36" fill="#f8a000"/><rect x="365.30" y="292.71" width="6.10" height="5.36" fill="#f8ee00"/><rect x="371.10" y="292.71" width="7.80" height="5.36" fill="#1128c0"/><rect x="334.80" y="297.77" width="5.50" height="5.36" fill="#0b1888"/><rect x="340.00" y="297.77" width="6.00" height="5.36" fill="#30ecf8"/><rect x="345.70" y="297.77" width="4.40" height="5.36" fill="#30ecf8"/><rect x="349.80" y="297.77" width="2.80" height="5.36" fill="#30ecf8"/><rect x="352.30" y="297.77" width="6.00" height="5.36" fill="#f84018"/><rect x="358.00" y="297.77" width="2.80" height="5.36" fill="#f8a898"/><rect x="360.50" y="297.77" width="5.10" height="5.36" fill="#f84018"/><rect x="365.30" y="297.77" width="6.10" height="5.36" fill="#f8ee00"/><rect x="371.10" y="297.77" width="7.80" height="5.36" fill="#1128c0"/><rect x="334.80" y="302.82" width="5.50" height="5.36" fill="#0b1888"/><rect x="340.00" y="302.82" width="6.00" height="5.36" fill="#2c7cf8"/><rect x="345.70" y="302.82" width="4.40" height="5.36" fill="#30ecf8"/><rect x="349.80" y="302.82" width="2.80" height="5.36" fill="#30ecf8"/><rect x="352.30" y="302.82" width="6.00" height="5.36" fill="#f87058"/><rect x="358.00" y="302.82" width="2.80" height="5.36" fill="#fff6f2"/><rect x="360.50" y="302.82" width="5.10" height="5.36" fill="#f8a000"/><rect x="365.30" y="302.82" width="6.10" height="5.36" fill="#f8ee00"/><rect x="371.10" y="302.82" width="7.80" height="5.36" fill="#1128c0"/><rect x="334.80" y="307.88" width="5.50" height="5.36" fill="#0b1888"/><rect x="340.00" y="307.88" width="6.00" height="5.36" fill="#2c7cf8"/><rect x="345.70" y="307.88" width="4.40" height="5.36" fill="#30ecf8"/><rect x="349.80" y="307.88" width="2.80" height="5.36" fill="#38e438"/><rect x="352.30" y="307.88" width="6.00" height="5.36" fill="#f8a898"/><rect x="358.00" y="307.88" width="2.80" height="5.36" fill="#fff6f2"/><rect x="360.50" y="307.88" width="5.10" height="5.36" fill="#f8a000"/><rect x="365.30" y="307.88" width="6.10" height="5.36" fill="#f8ee00"/><rect x="371.10" y="307.88" width="7.80" height="5.36" fill="#1128c0"/><rect x="334.80" y="312.94" width="5.50" height="5.36" fill="#0b1888"/><rect x="340.00" y="312.94" width="6.00" height="5.36" fill="#2c7cf8"/><rect x="345.70" y="312.94" width="4.40" height="5.36" fill="#2c7cf8"/><rect x="349.80" y="312.94" width="2.80" height="5.36" fill="#38e438"/><rect x="352.30" y="312.94" width="6.00" height="5.36" fill="#fff6f2"/><rect x="358.00" y="312.94" width="2.80" height="5.36" fill="#fff6f2"/><rect x="360.50" y="312.94" width="5.10" height="5.36" fill="#f84018"/><rect x="365.30" y="312.94" width="6.10" height="5.36" fill="#f8a000"/><rect x="371.10" y="312.94" width="7.80" height="5.36" fill="#1128c0"/></g></g>
<line x1="145.1" y1="318" x2="145.1" y2="321.7" stroke="#333" stroke-width="0.8"/>
<text x="145.1" y="330.8" font-size="6.1" text-anchor="middle" textLength="37.5" lengthAdjust="spacingAndGlyphs" fill="#222" >82975001</text>
<line x1="286.1" y1="318" x2="286.1" y2="321.7" stroke="#333" stroke-width="0.8"/>
<text x="286.1" y="330.8" font-size="6.1" text-anchor="middle" textLength="37.5" lengthAdjust="spacingAndGlyphs" fill="#222" >82985000</text>
<line x1="427.1" y1="318" x2="427.1" y2="321.7" stroke="#333" stroke-width="0.8"/>
<text x="427.1" y="330.8" font-size="6.1" text-anchor="middle" textLength="37.5" lengthAdjust="spacingAndGlyphs" fill="#222" >82995000</text>
<defs><linearGradient id="cb" x1="0" x2="1" y1="0" y2="0"><stop offset="0.0000" stop-color="#000000"/><stop offset="0.1321" stop-color="#010106"/><stop offset="0.1686" stop-color="#04041e"/><stop offset="0.2051" stop-color="#080840"/><stop offset="0.2489" stop-color="#0c1272"/><stop offset="0.2964" stop-color="#1226a8"/><stop offset="0.3438" stop-color="#1634d0"/><stop offset="0.3912" stop-color="#1a42ee"/><stop offset="0.4533" stop-color="#1e52f8"/><stop offset="0.5153" stop-color="#2468f0"/><stop offset="0.5482" stop-color="#2888ec"/><stop offset="0.5774" stop-color="#30a8f0"/><stop offset="0.6102" stop-color="#18eef0"/><stop offset="0.6577" stop-color="#30e0b0"/><stop offset="0.7073" stop-color="#20e020"/><stop offset="0.7398" stop-color="#90f020"/><stop offset="0.7708" stop-color="#e0f000"/><stop offset="0.8109" stop-color="#f8e000"/><stop offset="0.8529" stop-color="#f8b000"/><stop offset="0.8839" stop-color="#f89000"/><stop offset="0.9168" stop-color="#f84800"/><stop offset="0.9423" stop-color="#f82800"/><stop offset="0.9715" stop-color="#f04030"/><stop offset="0.9825" stop-color="#f8a090"/><stop offset="1.0000" stop-color="#f8b0a0"/></linearGradient></defs>
<rect x="123.8" y="339.6" width="274" height="9" fill="url(#cb)"/>
<line x1="118.6" y1="338.6" x2="404" y2="338.6" stroke="#777" stroke-width="0.9"/>
<line x1="123.8" y1="348.6" x2="123.8" y2="351" stroke="#333" stroke-width="0.7"/>
<text x="123.8" y="355.8" font-size="5.2" font-weight="bold" text-anchor="middle" textLength="6.2" lengthAdjust="spacingAndGlyphs" fill="#333" >-1</text>
<line x1="179.6" y1="348.6" x2="179.6" y2="351" stroke="#333" stroke-width="0.7"/>
<text x="179.6" y="355.8" font-size="5.2" font-weight="bold" text-anchor="middle" textLength="3.9" lengthAdjust="spacingAndGlyphs" fill="#333" >0</text>
<line x1="235.39999999999998" y1="348.6" x2="235.39999999999998" y2="351" stroke="#333" stroke-width="0.7"/>
<text x="235.39999999999998" y="355.8" font-size="5.2" font-weight="bold" text-anchor="middle" textLength="3.9" lengthAdjust="spacingAndGlyphs" fill="#333" >1</text>
<line x1="291.2" y1="348.6" x2="291.2" y2="351" stroke="#333" stroke-width="0.7"/>
<text x="291.2" y="355.8" font-size="5.2" font-weight="bold" text-anchor="middle" textLength="3.9" lengthAdjust="spacingAndGlyphs" fill="#333" >2</text>
<line x1="347.0" y1="348.6" x2="347.0" y2="351" stroke="#333" stroke-width="0.7"/>
<text x="347.0" y="355.8" font-size="5.2" font-weight="bold" text-anchor="middle" textLength="3.9" lengthAdjust="spacingAndGlyphs" fill="#333" >3</text>
<line x1="402.8" y1="348.6" x2="402.8" y2="351" stroke="#333" stroke-width="0.7"/>
<text x="402.8" y="355.8" font-size="5.2" font-weight="bold" text-anchor="middle" textLength="3.9" lengthAdjust="spacingAndGlyphs" fill="#333" >4</text>
<defs><pattern id="chev" x="263.0" y="388.6" width="5.25" height="14.6" patternUnits="userSpaceOnUse"><rect width="5.25" height="14.6" fill="#a6d6f8"/><polyline points="5.6,-0.5 1.0,7.3 5.6,15.1" fill="none" stroke="#3458cc" stroke-width="1.0"/></pattern></defs>
<rect x="261.6" y="388.6" width="84.3" height="14.6" fill="url(#chev)" stroke="#2c3a8a" stroke-width="1.2"/>
<rect x="196.4" y="381.6" width="65" height="28.6" fill="#fefbe2" stroke="#2a2e6a" stroke-width="1.5"/>
<rect x="345.6" y="381.6" width="12" height="28.6" fill="#fefbe2" stroke="#2a2e6a" stroke-width="1.5"/>
<text x="624.3" y="348.6" font-size="10" font-weight="bold" text-anchor="end" textLength="72.7" lengthAdjust="spacingAndGlyphs" fill="#111" >Time Points: 0h</text>
<text x="625.3" y="368.4" font-size="10" font-weight="bold" text-anchor="end" textLength="11.4" lengthAdjust="spacingAndGlyphs" fill="#111" >1h</text>
<text x="625.3" y="388.5" font-size="10" font-weight="bold" text-anchor="end" textLength="10.7" lengthAdjust="spacingAndGlyphs" fill="#111" >8h</text>
<text x="625.5" y="408.8" font-size="10" font-weight="bold" text-anchor="end" textLength="16.3" lengthAdjust="spacingAndGlyphs" fill="#111" >24h</text>
<polygon points="636.3,338.2 652.8,410.2 636.3,410.2" fill="#000"/>
<polygon points="563,196.60 567.6,216.90 563,216.90" fill="#000"/>
<polygon points="563,216.90 567.6,237.20 563,237.20" fill="#000"/>
<rect x="561" y="196.6" width="2.1" height="40.6" fill="#000"/>
<text x="573.3" y="212.0" font-size="9.6" font-weight="bold" text-anchor="start" textLength="15.7" lengthAdjust="spacingAndGlyphs" fill="#111" >WT</text>
<text x="569.6" y="231.6" font-size="9.6" font-weight="bold" text-anchor="start" textLength="25.2" lengthAdjust="spacingAndGlyphs" fill="#111" >RAR&#947;</text>
<text x="595.5" y="227.6" font-size="6" text-anchor="start" textLength="7" lengthAdjust="spacingAndGlyphs" fill="#333" >-/-</text>
<rect x="608.8" y="203.6" width="1.8" height="29.2" fill="#111"/>
<polygon points="563,237.20 567.6,257.50 563,257.50" fill="#000"/>
<polygon points="563,257.50 567.6,277.80 563,277.80" fill="#000"/>
<rect x="561" y="237.2" width="2.1" height="40.6" fill="#000"/>
<text x="573.3" y="252.3" font-size="9.6" font-weight="bold" text-anchor="start" textLength="15.7" lengthAdjust="spacingAndGlyphs" fill="#111" >WT</text>
<text x="569.6" y="271.9" font-size="9.6" font-weight="bold" text-anchor="start" textLength="25.2" lengthAdjust="spacingAndGlyphs" fill="#111" >RAR&#947;</text>
<text x="595.5" y="267.9" font-size="6" text-anchor="start" textLength="7" lengthAdjust="spacingAndGlyphs" fill="#333" >-/-</text>
<rect x="608.8" y="243.89999999999998" width="1.8" height="29.2" fill="#111"/>
<polygon points="563,277.80 567.6,298.10 563,298.10" fill="#000"/>
<polygon points="563,298.10 567.6,318.40 563,318.40" fill="#000"/>
<rect x="561" y="277.8" width="2.1" height="40.6" fill="#000"/>
<text x="573.3" y="292.6" font-size="9.6" font-weight="bold" text-anchor="start" textLength="15.7" lengthAdjust="spacingAndGlyphs" fill="#111" >WT</text>
<text x="569.6" y="312.2" font-size="9.6" font-weight="bold" text-anchor="start" textLength="25.2" lengthAdjust="spacingAndGlyphs" fill="#111" >RAR&#947;</text>
<text x="595.5" y="308.2" font-size="6" text-anchor="start" textLength="7" lengthAdjust="spacingAndGlyphs" fill="#333" >-/-</text>
<rect x="608.8" y="284.2" width="1.8" height="29.2" fill="#111"/>
<text x="613.3" y="221.5" font-size="10" font-weight="bold" text-anchor="start" textLength="52.6" lengthAdjust="spacingAndGlyphs" fill="#111" >H3K9/14ac</text>
<text x="613.3" y="262.0" font-size="10" font-weight="bold" text-anchor="start" textLength="49.5" lengthAdjust="spacingAndGlyphs" fill="#111" >H3K27me3</text>
<text x="613.3" y="302.5" font-size="10" font-weight="bold" text-anchor="start" textLength="46.3" lengthAdjust="spacingAndGlyphs" fill="#111" >H3K4me3</text>
</svg></body></html>
